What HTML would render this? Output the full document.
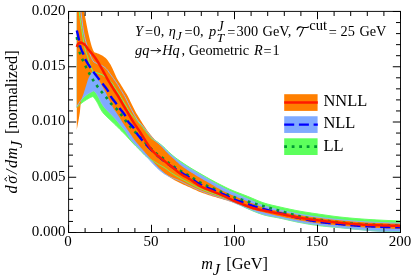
<!DOCTYPE html>
<html><head><meta charset="utf-8"><title>plot</title>
<style>
html,body{margin:0;padding:0;background:#fff;}
body{width:415px;height:279px;overflow:hidden;position:relative;font-family:"Liberation Serif",serif;}
</style></head><body>
<svg width="415" height="279" viewBox="0 0 415 279" style="position:absolute;left:0;top:0;display:block;will-change:transform">
<defs><clipPath id="c"><rect x="68.50" y="11.00" width="332.50" height="222.00"/></clipPath></defs>
<g clip-path="url(#c)">
<polygon points="76.80,-40.00 77.80,-14.16 78.80,5.74 79.20,11.00 79.80,16.73 80.80,23.84 81.80,29.64 82.50,34.00 82.80,36.10 83.80,42.90 84.00,44.00 84.80,47.82 85.80,51.80 86.50,54.00 86.80,54.73 87.50,56.25 87.80,57.13 88.80,60.80 89.80,64.42 90.00,65.00 90.80,66.92 91.80,68.99 92.50,70.60 92.80,71.42 93.00,72.00 94.00,72.16 95.00,72.36 96.00,72.60 97.00,72.86 97.50,73.00 98.00,73.15 99.00,73.47 100.00,73.84 101.00,74.26 102.00,74.74 102.50,75.00 103.00,75.30 104.00,76.06 105.00,76.93 106.00,77.80 106.25,78.00 107.00,78.57 108.00,79.28 109.00,79.99 110.00,80.79 111.00,81.75 112.00,83.04 113.00,84.64 114.00,86.36 115.00,88.00 116.00,89.49 117.00,90.96 118.00,92.44 118.75,93.60 119.00,94.00 120.00,95.65 121.00,97.35 122.00,99.06 122.50,99.90 123.00,100.73 124.00,102.36 125.00,104.00 126.00,105.67 126.25,106.10 127.00,107.46 128.00,109.36 129.00,111.13 129.40,111.75 130.00,112.60 131.00,113.91 132.00,115.11 133.00,116.24 134.00,117.33 135.00,118.42 136.00,119.54 136.40,120.00 137.00,120.70 138.00,121.86 139.00,123.01 140.00,124.16 141.00,125.33 142.00,126.52 142.80,127.50 143.00,127.75 144.00,129.05 145.00,130.39 146.00,131.74 147.00,133.06 148.00,134.30 149.00,135.51 150.00,136.73 151.00,137.85 152.00,138.81 152.50,139.20 153.00,139.53 154.00,140.06 155.00,140.53 156.00,141.05 156.25,141.20 157.00,141.68 158.00,142.38 159.00,143.13 160.00,143.91 161.00,144.73 162.00,145.57 162.50,146.00 163.00,146.44 164.00,147.36 165.00,148.33 166.00,149.33 167.00,150.33 168.00,151.30 168.75,152.00 169.00,152.23 170.00,153.13 171.00,154.03 172.00,154.91 173.00,155.77 174.00,156.60 175.00,157.40 176.00,158.16 177.00,158.90 178.00,159.61 179.00,160.31 180.00,161.00 181.00,161.69 182.00,162.37 183.00,163.05 184.00,163.72 185.00,164.39 186.00,165.04 187.00,165.69 188.00,166.34 189.00,166.97 190.00,167.60 191.00,168.22 192.00,168.83 193.00,169.42 194.00,170.02 195.00,170.60 196.00,171.19 197.00,171.77 198.00,172.34 199.00,172.92 200.00,173.50 201.00,174.08 202.00,174.66 203.00,175.24 204.00,175.81 205.00,176.39 206.00,176.96 207.00,177.53 208.00,178.09 209.00,178.65 210.00,179.20 211.00,179.75 212.00,180.29 213.00,180.83 214.00,181.37 215.00,181.90 216.00,182.43 217.00,182.95 218.00,183.47 219.00,183.99 220.00,184.50 221.00,185.01 222.00,185.52 223.00,186.03 224.00,186.53 225.00,187.03 226.00,187.53 227.00,188.01 228.00,188.49 229.00,188.95 230.00,189.40 231.00,189.84 232.00,190.26 233.00,190.68 234.00,191.09 235.00,191.49 236.00,191.88 237.00,192.27 238.00,192.66 239.00,193.04 240.00,193.42 241.00,193.80 242.00,194.18 243.00,194.56 244.00,194.94 245.00,195.32 246.00,195.71 247.00,196.10 247.50,196.30 248.00,196.50 249.00,196.91 250.00,197.32 251.00,197.75 252.00,198.18 253.00,198.61 254.00,199.04 255.00,199.47 256.00,199.90 257.00,200.32 258.00,200.74 259.00,201.15 260.00,201.54 261.00,201.93 262.00,202.30 263.00,202.65 264.00,202.99 265.00,203.30 266.00,203.60 267.00,203.88 268.00,204.16 269.00,204.42 270.00,204.68 271.00,204.93 272.00,205.17 273.00,205.41 274.00,205.64 275.00,205.87 276.00,206.10 277.00,206.32 278.00,206.55 279.00,206.77 280.00,207.00 281.00,207.23 282.00,207.45 283.00,207.68 284.00,207.91 285.00,208.13 286.00,208.35 287.00,208.57 288.00,208.79 289.00,209.01 290.00,209.22 291.00,209.44 292.00,209.65 293.00,209.85 294.00,210.06 295.00,210.26 296.00,210.45 297.00,210.65 298.00,210.83 299.00,211.02 300.00,211.20 301.00,211.38 302.00,211.55 303.00,211.72 304.00,211.89 305.00,212.05 306.00,212.21 307.00,212.37 308.00,212.53 309.00,212.68 310.00,212.84 311.00,212.99 312.00,213.14 313.00,213.28 314.00,213.43 315.00,213.58 316.00,213.72 317.00,213.87 318.00,214.01 319.00,214.16 320.00,214.30 321.00,214.44 322.00,214.59 323.00,214.74 324.00,214.88 325.00,215.03 326.00,215.17 327.00,215.31 328.00,215.46 329.00,215.60 330.00,215.74 331.00,215.88 332.00,216.01 333.00,216.15 334.00,216.28 335.00,216.41 336.00,216.53 337.00,216.65 338.00,216.77 339.00,216.89 340.00,217.00 341.00,217.11 342.00,217.21 343.00,217.32 344.00,217.42 345.00,217.53 346.00,217.63 347.00,217.72 348.00,217.82 349.00,217.92 350.00,218.01 351.00,218.10 352.00,218.19 353.00,218.28 354.00,218.37 355.00,218.45 356.00,218.54 357.00,218.62 358.00,218.70 359.00,218.78 360.00,218.85 361.00,218.93 362.00,219.00 363.00,219.07 364.00,219.14 365.00,219.21 366.00,219.28 367.00,219.34 368.00,219.41 369.00,219.47 370.00,219.53 371.00,219.59 372.00,219.65 373.00,219.71 374.00,219.77 375.00,219.83 376.00,219.88 377.00,219.94 378.00,219.99 379.00,220.05 380.00,220.10 381.00,220.15 382.00,220.20 383.00,220.25 384.00,220.30 385.00,220.35 386.00,220.40 387.00,220.44 388.00,220.49 389.00,220.53 390.00,220.58 391.00,220.62 392.00,220.67 393.00,220.71 394.00,220.75 395.00,220.79 396.00,220.83 397.00,220.87 398.00,220.91 399.00,220.95 400.00,220.98 400.50,221.00 400.50,232.00 399.80,231.99 398.80,231.96 397.80,231.94 396.80,231.91 395.80,231.88 394.80,231.85 393.80,231.81 392.80,231.78 391.80,231.74 390.80,231.70 389.80,231.66 388.80,231.62 387.80,231.58 386.80,231.53 385.80,231.48 384.80,231.44 383.80,231.39 382.80,231.34 382.00,231.30 381.80,231.29 380.80,231.24 379.80,231.18 378.80,231.12 377.80,231.06 376.80,230.99 375.80,230.92 374.80,230.85 373.80,230.77 372.80,230.70 371.80,230.62 370.80,230.54 369.80,230.46 368.80,230.37 367.80,230.29 366.80,230.21 365.80,230.12 364.80,230.04 363.80,229.95 362.80,229.87 362.00,229.80 361.80,229.78 360.80,229.70 359.80,229.61 358.80,229.52 357.80,229.43 356.80,229.34 355.80,229.25 354.80,229.15 353.80,229.05 352.80,228.96 351.80,228.86 350.80,228.76 349.80,228.66 348.80,228.56 347.80,228.46 346.80,228.37 345.80,228.27 344.80,228.17 343.80,228.07 342.80,227.97 341.80,227.87 340.80,227.78 340.00,227.70 339.80,227.68 338.80,227.59 337.80,227.50 336.80,227.41 335.80,227.32 334.80,227.23 333.80,227.14 332.80,227.06 331.80,226.97 330.80,226.88 329.80,226.79 328.80,226.70 327.80,226.61 326.80,226.52 325.80,226.42 324.80,226.32 323.80,226.22 322.80,226.12 321.80,226.01 320.80,225.89 320.00,225.80 319.80,225.78 318.80,225.65 317.80,225.52 316.80,225.39 315.80,225.25 314.80,225.11 313.80,224.96 312.80,224.81 311.80,224.65 310.80,224.50 309.80,224.33 308.80,224.17 307.80,224.00 306.80,223.83 305.80,223.65 304.80,223.47 303.80,223.29 302.80,223.11 301.80,222.93 300.80,222.75 300.00,222.60 299.80,222.56 298.80,222.37 297.80,222.17 296.80,221.97 295.80,221.76 294.80,221.54 293.80,221.32 292.80,221.10 291.80,220.87 290.80,220.64 289.80,220.41 288.80,220.18 287.80,219.95 286.80,219.72 285.80,219.49 284.80,219.26 283.80,219.03 282.80,218.81 281.80,218.58 280.80,218.37 280.00,218.20 279.80,218.16 278.80,217.96 277.80,217.76 276.80,217.57 275.80,217.39 274.80,217.21 273.80,217.03 272.80,216.85 271.80,216.67 270.80,216.48 269.80,216.28 268.80,216.08 267.80,215.87 266.80,215.64 265.80,215.40 265.00,215.20 264.80,215.15 263.80,214.87 262.80,214.58 261.80,214.28 260.80,213.95 259.80,213.61 258.80,213.26 257.80,212.89 256.80,212.51 255.80,212.12 254.80,211.72 253.80,211.31 252.80,210.90 251.80,210.47 250.80,210.04 249.80,209.61 248.80,209.17 247.80,208.73 247.50,208.60 246.80,208.28 245.80,207.80 244.80,207.30 243.80,206.78 242.80,206.25 241.80,205.72 240.80,205.20 240.00,204.80 239.80,204.70 238.80,204.21 237.80,203.71 236.80,203.21 235.80,202.72 234.80,202.23 233.80,201.75 232.80,201.27 231.80,200.81 230.80,200.35 230.00,200.00 229.80,199.91 228.80,199.48 227.80,199.06 226.80,198.65 225.80,198.24 224.80,197.84 223.80,197.45 222.80,197.06 221.80,196.68 220.80,196.30 220.00,196.00 219.80,195.93 218.80,195.56 217.80,195.21 216.80,194.86 215.80,194.52 214.80,194.18 213.80,193.84 212.80,193.50 211.80,193.15 210.80,192.79 210.00,192.50 209.80,192.43 208.80,192.05 207.80,191.67 206.80,191.29 205.80,190.90 204.80,190.51 203.80,190.11 202.80,189.70 201.80,189.28 200.80,188.85 200.00,188.50 199.80,188.41 198.80,187.95 197.80,187.48 196.80,187.00 195.80,186.50 194.80,186.00 193.80,185.48 192.80,184.97 191.80,184.44 190.80,183.92 190.00,183.50 189.80,183.40 188.80,182.87 187.80,182.33 186.80,181.80 185.80,181.25 184.80,180.70 183.80,180.15 182.80,179.59 181.80,179.03 180.80,178.46 180.00,178.00 179.80,177.89 178.80,177.31 177.80,176.74 176.80,176.17 175.80,175.59 174.80,175.00 173.80,174.39 172.80,173.76 171.80,173.12 171.25,172.75 170.80,172.44 169.80,171.69 168.80,170.90 167.80,170.10 166.80,169.30 165.80,168.55 165.00,168.00 164.80,167.87 163.80,167.25 162.80,166.67 161.80,166.11 160.80,165.57 159.80,165.01 158.80,164.43 158.75,164.40 157.80,163.83 156.80,163.21 155.80,162.59 154.80,161.96 153.80,161.32 152.80,160.69 152.50,160.50 151.80,160.07 150.80,159.47 149.80,158.87 148.80,158.26 147.80,157.62 146.80,156.92 146.25,156.50 145.80,156.13 144.80,155.23 143.80,154.23 142.80,153.17 141.80,152.08 140.80,151.02 140.00,150.20 139.80,150.00 138.80,149.02 137.80,148.06 136.80,147.09 135.80,146.10 135.00,145.30 134.80,145.10 133.80,144.06 132.80,143.01 131.80,141.94 130.80,140.86 130.00,140.00 129.80,139.78 128.80,138.68 127.80,137.57 126.80,136.45 125.80,135.35 125.00,134.50 124.80,134.29 123.80,133.27 122.80,132.27 121.80,131.28 120.80,130.29 120.00,129.50 119.80,129.30 118.80,128.29 117.80,127.28 116.80,126.28 115.80,125.28 115.00,124.50 114.80,124.31 113.80,123.35 112.80,122.42 111.80,121.49 110.80,120.55 110.00,119.80 109.80,119.61 108.80,118.67 107.80,117.74 106.80,116.79 105.80,115.81 105.00,115.00 104.80,114.79 103.80,113.75 103.00,112.80 102.80,112.54 101.80,111.07 100.80,109.41 100.00,108.00 99.80,107.63 98.80,105.60 97.80,103.56 97.50,103.00 96.80,101.78 95.80,100.15 95.00,99.00 94.80,98.74 93.80,97.53 92.80,96.50 91.80,96.88 90.80,97.31 90.60,97.40 89.80,97.79 88.80,98.32 87.80,98.89 86.80,99.50 86.00,100.00 85.80,100.13 84.80,100.79 83.80,101.48 82.80,102.21 81.80,102.98 80.90,103.70 80.80,103.78 79.80,104.64 78.80,105.54 77.80,106.50 76.80,107.50" fill="#5CFF5C"/>
<polygon points="76.80,-20.00 77.80,-12.02 78.80,-4.19 79.80,3.48 80.80,11.00 81.80,18.76 82.80,26.44 83.80,32.94 84.00,34.00 84.80,37.70 85.80,41.57 86.50,44.00 86.80,44.99 87.80,48.04 88.80,50.84 89.40,52.50 89.80,53.64 90.80,56.43 91.25,57.50 91.80,58.65 92.80,60.51 93.75,61.90 94.75,62.42 95.75,62.92 96.75,63.40 97.50,63.75 97.75,63.86 98.75,64.27 99.75,64.65 100.75,65.05 101.75,65.52 101.90,65.60 102.75,66.08 103.75,66.72 104.75,67.46 105.75,68.29 106.25,68.75 106.75,69.27 107.75,70.54 108.75,71.97 109.75,73.41 110.00,73.75 110.75,74.76 111.75,76.10 112.75,77.46 113.50,78.50 113.75,78.85 114.75,80.24 115.75,81.66 116.75,83.11 117.50,84.25 117.75,84.64 118.75,86.27 119.75,87.96 120.75,89.66 121.25,90.50 121.75,91.32 122.75,92.94 123.75,94.58 124.75,96.30 125.00,96.75 125.75,98.18 126.75,100.22 127.75,102.29 128.10,103.00 128.75,104.31 129.75,106.33 130.75,108.30 131.25,109.25 131.75,110.18 132.75,112.04 133.75,113.88 134.75,115.65 135.75,117.34 136.75,118.92 137.50,120.00 137.75,120.34 138.75,121.61 139.75,122.78 140.75,123.88 141.75,124.95 142.75,126.04 143.75,127.20 144.00,127.50 144.75,128.45 145.75,129.76 146.75,131.10 147.75,132.44 148.75,133.74 149.20,134.30 149.75,134.98 150.75,136.21 151.75,137.40 152.75,138.53 153.70,139.50 153.75,139.55 154.75,140.46 155.75,141.30 156.75,142.08 157.75,142.82 158.75,143.55 159.75,144.29 160.75,145.05 161.75,145.85 162.50,146.50 162.75,146.72 163.75,147.67 164.75,148.67 165.75,149.69 166.75,150.73 167.75,151.74 168.75,152.70 169.75,153.62 170.75,154.53 171.75,155.42 172.75,156.29 173.75,157.15 174.75,157.99 175.00,158.20 175.75,158.83 176.75,159.66 177.75,160.47 178.75,161.26 179.75,162.02 180.00,162.20 180.75,162.74 181.75,163.44 182.75,164.11 183.75,164.78 184.75,165.42 185.75,166.06 186.75,166.69 187.75,167.31 188.75,167.93 189.75,168.55 190.00,168.70 190.75,169.16 191.75,169.77 192.75,170.36 193.75,170.95 194.75,171.54 195.75,172.12 196.75,172.70 197.75,173.28 198.75,173.87 199.75,174.45 200.00,174.60 200.75,175.04 201.75,175.64 202.75,176.23 203.75,176.83 204.75,177.42 205.75,178.01 206.75,178.61 207.75,179.19 208.75,179.78 209.75,180.36 210.00,180.50 210.75,180.93 211.75,181.50 212.75,182.08 213.75,182.64 214.75,183.21 215.75,183.77 216.75,184.33 217.75,184.88 218.75,185.43 219.75,185.97 220.00,186.10 220.75,186.50 221.75,187.03 222.75,187.56 223.75,188.08 224.75,188.60 225.75,189.11 226.75,189.61 227.75,190.11 228.75,190.60 229.75,191.08 230.00,191.20 230.75,191.55 231.75,192.02 232.75,192.47 233.75,192.92 234.75,193.37 235.75,193.81 236.75,194.24 237.75,194.67 238.75,195.10 239.75,195.53 240.75,195.95 241.75,196.37 242.75,196.80 243.75,197.22 244.75,197.64 245.75,198.06 246.75,198.48 247.50,198.80 247.75,198.91 248.75,199.34 249.75,199.78 250.75,200.22 251.75,200.67 252.75,201.12 253.75,201.57 254.75,202.02 255.75,202.46 256.75,202.90 257.75,203.34 258.75,203.76 259.75,204.17 260.75,204.57 261.75,204.96 262.75,205.33 263.75,205.69 264.75,206.02 265.00,206.10 265.75,206.34 266.75,206.64 267.75,206.93 268.75,207.22 269.75,207.49 270.75,207.76 271.75,208.02 272.75,208.27 273.75,208.52 274.75,208.76 275.75,209.00 276.75,209.24 277.75,209.47 278.75,209.71 279.75,209.94 280.00,210.00 280.75,210.17 281.75,210.41 282.75,210.64 283.75,210.86 284.75,211.09 285.75,211.31 286.75,211.53 287.75,211.75 288.75,211.97 289.75,212.18 290.75,212.40 291.75,212.60 292.75,212.81 293.75,213.01 294.75,213.21 295.75,213.41 296.75,213.60 297.75,213.79 298.75,213.97 299.75,214.16 300.00,214.20 300.75,214.33 301.75,214.51 302.75,214.68 303.75,214.85 304.75,215.02 305.75,215.18 306.75,215.35 307.75,215.51 308.75,215.66 309.75,215.82 310.75,215.97 311.75,216.12 312.75,216.27 313.75,216.42 314.75,216.57 315.75,216.71 316.75,216.85 317.75,216.99 318.75,217.13 319.75,217.27 320.00,217.30 320.75,217.40 321.75,217.53 322.75,217.67 323.75,217.80 324.75,217.93 325.75,218.06 326.75,218.18 327.75,218.31 328.75,218.43 329.75,218.56 330.75,218.68 331.75,218.80 332.75,218.91 333.75,219.03 334.75,219.14 335.75,219.25 336.75,219.36 337.75,219.47 338.75,219.57 339.75,219.67 340.00,219.70 340.75,219.78 341.75,219.88 342.75,219.97 343.75,220.07 344.75,220.17 345.75,220.27 346.75,220.36 347.75,220.46 348.75,220.55 349.75,220.64 350.75,220.73 351.75,220.82 352.75,220.91 353.75,220.99 354.75,221.07 355.75,221.15 356.75,221.23 357.75,221.31 358.75,221.38 359.75,221.45 360.75,221.52 361.75,221.58 362.00,221.60 362.75,221.65 363.75,221.71 364.75,221.77 365.75,221.83 366.75,221.88 367.75,221.94 368.75,221.99 369.75,222.05 370.75,222.10 371.75,222.15 372.75,222.20 373.75,222.24 374.75,222.29 375.75,222.34 376.75,222.38 377.75,222.43 378.75,222.47 379.75,222.51 380.75,222.55 381.75,222.59 382.00,222.60 382.75,222.63 383.75,222.67 384.75,222.71 385.75,222.74 386.75,222.78 387.75,222.82 388.75,222.85 389.75,222.89 390.75,222.92 391.75,222.95 392.75,222.98 393.75,223.01 394.75,223.04 395.75,223.07 396.75,223.10 397.75,223.13 398.75,223.16 399.75,223.18 400.50,223.20 400.50,232.30 399.50,232.28 398.50,232.25 397.50,232.22 396.50,232.19 395.50,232.15 394.50,232.11 393.50,232.07 392.50,232.03 391.50,231.99 390.50,231.94 389.50,231.90 388.50,231.85 387.50,231.80 386.50,231.75 385.50,231.69 384.50,231.64 383.50,231.58 382.50,231.53 382.00,231.50 381.50,231.47 380.50,231.41 379.50,231.34 378.50,231.27 377.50,231.20 376.50,231.12 375.50,231.04 374.50,230.96 373.50,230.87 372.50,230.79 371.50,230.70 370.50,230.60 369.50,230.51 368.50,230.42 367.50,230.32 366.50,230.23 365.50,230.13 364.50,230.04 363.50,229.94 362.50,229.85 362.00,229.80 361.50,229.75 360.50,229.66 359.50,229.56 358.50,229.46 357.50,229.36 356.50,229.26 355.50,229.16 354.50,229.06 353.50,228.96 352.50,228.85 351.50,228.75 350.50,228.64 349.50,228.53 348.50,228.43 347.50,228.32 346.50,228.21 345.50,228.10 344.50,227.99 343.50,227.88 342.50,227.77 341.50,227.66 340.50,227.55 340.00,227.50 339.50,227.45 338.50,227.34 337.50,227.23 336.50,227.12 335.50,227.01 334.50,226.90 333.50,226.79 332.50,226.68 331.50,226.57 330.50,226.46 329.50,226.35 328.50,226.23 327.50,226.12 326.50,226.00 325.50,225.88 324.50,225.76 323.50,225.64 322.50,225.52 321.50,225.39 320.50,225.26 320.00,225.20 319.50,225.13 318.50,225.00 317.50,224.87 316.50,224.74 315.50,224.60 314.50,224.46 313.50,224.32 312.50,224.18 311.50,224.04 310.50,223.89 309.50,223.75 308.50,223.60 307.50,223.44 306.50,223.29 305.50,223.13 304.50,222.97 303.50,222.80 302.50,222.63 301.50,222.46 300.50,222.29 300.00,222.20 299.50,222.11 298.50,221.92 297.50,221.73 296.50,221.52 295.50,221.31 294.50,221.10 293.50,220.88 292.50,220.65 291.50,220.42 290.50,220.19 289.50,219.96 288.50,219.73 287.50,219.49 286.50,219.26 285.50,219.02 284.50,218.79 283.50,218.56 282.50,218.34 281.50,218.12 280.50,217.91 280.00,217.80 279.50,217.70 278.50,217.50 277.50,217.30 276.50,217.12 275.50,216.93 274.50,216.75 273.50,216.57 272.50,216.39 271.50,216.20 270.50,216.01 269.50,215.82 268.50,215.61 267.50,215.40 266.50,215.17 265.50,214.93 265.00,214.80 264.50,214.67 263.50,214.39 262.50,214.10 261.50,213.78 260.50,213.45 259.50,213.11 258.50,212.75 257.50,212.38 256.50,212.01 255.50,211.62 254.50,211.22 253.50,210.83 252.50,210.42 251.50,210.02 250.50,209.61 249.50,209.20 248.50,208.80 247.50,208.40 246.50,207.99 245.50,207.58 244.50,207.15 243.50,206.72 242.50,206.28 241.50,205.84 240.50,205.41 240.00,205.20 239.50,204.99 238.50,204.56 237.50,204.13 236.50,203.69 235.50,203.26 234.50,202.83 233.50,202.41 232.50,201.99 231.50,201.59 230.50,201.19 230.00,201.00 229.50,200.81 228.50,200.44 227.50,200.07 226.50,199.72 225.50,199.36 224.50,199.02 223.50,198.68 222.50,198.34 221.50,198.00 220.50,197.67 220.00,197.50 219.50,197.33 218.50,197.01 217.50,196.69 216.50,196.38 215.50,196.07 214.50,195.76 213.50,195.45 212.50,195.13 211.50,194.81 210.50,194.47 210.00,194.30 209.50,194.13 208.50,193.77 207.50,193.41 206.50,193.04 205.50,192.67 204.50,192.29 203.50,191.90 202.50,191.51 201.50,191.11 200.50,190.71 200.00,190.50 199.50,190.29 198.50,189.87 197.50,189.44 196.50,189.00 195.50,188.55 194.50,188.10 193.50,187.64 192.50,187.18 191.50,186.71 190.50,186.24 190.00,186.00 189.50,185.76 188.50,185.27 187.50,184.76 186.50,184.24 185.50,183.72 184.50,183.20 183.50,182.69 182.50,182.18 181.50,181.69 180.50,181.22 180.00,181.00 179.50,180.78 178.50,180.37 177.50,179.98 176.50,179.60 175.50,179.22 174.50,178.83 173.50,178.43 172.50,178.00 171.50,177.55 170.50,177.09 169.50,176.62 168.50,176.13 167.50,175.62 166.50,175.08 165.50,174.50 165.00,174.20 164.50,173.88 163.50,173.21 162.50,172.48 161.50,171.71 160.50,170.89 159.50,170.05 158.75,169.40 158.50,169.18 157.50,168.26 156.50,167.28 155.50,166.26 154.50,165.21 153.50,164.16 152.50,163.10 151.50,162.04 150.50,160.95 149.50,159.85 148.50,158.74 147.50,157.63 146.50,156.52 146.25,156.25 145.50,155.43 144.50,154.33 143.50,153.24 142.50,152.14 141.50,151.05 140.50,149.95 140.00,149.40 139.50,148.86 138.50,147.79 137.50,146.74 136.50,145.70 135.50,144.66 134.50,143.59 133.50,142.49 132.50,141.34 131.50,140.13 131.00,139.50 130.50,138.83 129.50,137.39 128.50,135.83 127.50,134.24 126.50,132.67 125.50,131.19 125.00,130.50 124.50,129.85 123.50,128.61 122.50,127.42 121.50,126.26 120.50,125.09 120.00,124.50 119.50,123.90 118.50,122.67 117.50,121.45 116.50,120.24 115.50,119.06 115.00,118.50 114.50,117.95 113.50,116.89 112.50,115.86 111.50,114.85 110.50,113.84 109.50,112.82 109.00,112.30 108.50,111.78 107.50,110.78 106.50,109.76 105.50,108.69 104.50,107.50 103.50,106.16 102.50,104.65 101.50,103.00 100.50,101.06 99.50,98.97 99.00,98.00 98.50,97.08 97.50,95.24 96.50,93.64 96.00,93.00 95.50,92.45 94.50,91.49 93.50,90.80 92.80,91.13 91.80,91.64 90.80,92.19 90.60,92.30 89.80,92.76 88.80,93.36 87.80,94.00 86.80,94.70 86.00,95.30 85.80,95.46 84.80,96.30 83.80,97.22 82.80,98.23 81.80,99.33 80.90,100.40 80.80,100.52 79.80,101.87 78.80,103.38 77.80,105.03 76.80,106.80" fill="#80AAFF"/>
<polygon points="76.80,-60.00 77.80,-46.32 78.80,-33.47 79.50,-25.00 79.80,-21.39 80.80,-9.35 81.80,0.00 82.80,5.53 83.80,10.02 84.00,11.00 84.80,15.13 85.80,20.45 86.80,25.73 87.80,30.75 88.50,34.00 88.80,35.32 89.80,39.52 90.80,43.31 91.00,44.00 91.80,46.69 92.80,49.56 93.00,50.00 93.80,51.51 94.60,52.60 95.60,52.82 96.60,53.10 97.60,53.44 98.60,53.82 99.60,54.23 100.00,54.40 100.60,54.67 101.60,55.18 102.60,55.77 103.60,56.43 104.60,57.18 105.00,57.50 105.60,58.03 106.60,59.08 107.60,60.30 108.60,61.66 109.60,63.13 110.00,63.75 110.60,64.75 111.60,66.67 112.60,68.78 113.60,70.93 113.75,71.25 114.60,73.15 115.60,75.50 116.60,77.71 117.00,78.50 117.60,79.57 118.60,81.18 119.60,82.69 120.60,84.25 121.60,85.88 122.60,87.52 123.60,89.17 124.40,90.50 124.60,90.83 125.60,92.47 126.60,94.11 127.60,95.84 128.10,96.75 128.60,97.72 129.60,99.80 130.60,101.95 131.25,103.30 131.60,104.01 132.60,106.05 133.60,108.07 134.60,110.02 135.50,111.70 135.60,111.88 136.60,113.63 137.60,115.31 138.60,116.94 139.60,118.55 140.00,119.20 140.60,120.17 141.60,121.79 142.60,123.40 143.60,124.97 144.60,126.50 145.00,127.10 145.60,127.99 146.60,129.45 147.60,130.88 148.60,132.27 149.60,133.59 150.00,134.10 150.60,134.84 151.60,136.04 152.60,137.19 153.60,138.31 154.60,139.41 155.60,140.50 156.25,141.20 156.60,141.58 157.60,142.64 158.60,143.67 159.60,144.70 160.60,145.72 161.60,146.75 162.50,147.70 162.60,147.81 163.60,148.90 164.60,150.01 165.60,151.14 166.60,152.25 167.60,153.33 168.60,154.35 168.75,154.50 169.60,155.31 170.60,156.23 171.60,157.11 172.60,157.98 173.60,158.85 174.60,159.74 175.00,160.10 175.60,160.66 176.60,161.63 177.60,162.62 178.60,163.57 179.60,164.47 180.00,164.80 180.60,165.28 181.60,166.05 182.60,166.79 183.60,167.50 184.60,168.18 185.60,168.85 186.60,169.51 187.60,170.16 188.60,170.80 189.60,171.44 190.00,171.70 190.60,172.09 191.60,172.72 192.60,173.35 193.60,173.97 194.60,174.58 195.60,175.19 196.60,175.79 197.60,176.38 198.60,176.97 199.60,177.56 200.00,177.80 200.60,178.15 201.60,178.73 202.60,179.31 203.60,179.88 204.60,180.44 205.60,181.01 206.60,181.57 207.60,182.13 208.60,182.70 209.60,183.27 210.00,183.50 210.60,183.85 211.60,184.43 212.60,185.03 213.60,185.62 214.60,186.22 215.60,186.81 216.60,187.40 217.60,187.97 218.60,188.54 219.60,189.09 220.00,189.30 220.60,189.62 221.60,190.14 222.60,190.65 223.60,191.16 224.60,191.65 225.60,192.14 226.60,192.62 227.60,193.10 228.60,193.56 229.60,194.02 230.00,194.20 230.60,194.47 231.60,194.91 232.60,195.35 233.60,195.78 234.60,196.21 235.60,196.63 236.60,197.04 237.60,197.46 238.60,197.86 239.60,198.27 240.60,198.67 241.60,199.07 242.60,199.47 243.60,199.86 244.60,200.26 245.60,200.65 246.60,201.05 247.50,201.40 247.60,201.44 248.60,201.84 249.60,202.24 250.60,202.64 251.60,203.05 252.60,203.46 253.60,203.87 254.60,204.27 255.60,204.68 256.60,205.07 257.60,205.46 258.60,205.84 259.60,206.22 260.60,206.58 261.60,206.93 262.60,207.26 263.60,207.58 264.60,207.88 265.00,208.00 265.60,208.17 266.60,208.45 267.60,208.71 268.60,208.97 269.60,209.22 270.60,209.46 271.60,209.69 272.60,209.92 273.60,210.14 274.60,210.36 275.60,210.58 276.60,210.79 277.60,211.00 278.60,211.21 279.60,211.42 280.00,211.50 280.60,211.62 281.60,211.83 282.60,212.03 283.60,212.23 284.60,212.43 285.60,212.63 286.60,212.83 287.60,213.02 288.60,213.21 289.60,213.40 290.60,213.58 291.60,213.76 292.60,213.95 293.60,214.12 294.60,214.30 295.60,214.47 296.60,214.64 297.60,214.81 298.60,214.97 299.60,215.14 300.00,215.20 300.60,215.30 301.60,215.45 302.60,215.61 303.60,215.76 304.60,215.91 305.60,216.06 306.60,216.21 307.60,216.35 308.60,216.49 309.60,216.63 310.60,216.77 311.60,216.91 312.60,217.05 313.60,217.18 314.60,217.31 315.60,217.44 316.60,217.57 317.60,217.70 318.60,217.83 319.60,217.95 320.00,218.00 320.60,218.07 321.60,218.20 322.60,218.32 323.60,218.44 324.60,218.55 325.60,218.67 326.60,218.79 327.60,218.90 328.60,219.02 329.60,219.13 330.60,219.24 331.60,219.35 332.60,219.46 333.60,219.56 334.60,219.67 335.60,219.77 336.60,219.87 337.60,219.97 338.60,220.07 339.60,220.16 340.00,220.20 340.60,220.26 341.60,220.35 342.60,220.44 343.60,220.54 344.60,220.63 345.60,220.72 346.60,220.81 347.60,220.90 348.60,220.99 349.60,221.08 350.60,221.17 351.60,221.25 352.60,221.33 353.60,221.41 354.60,221.49 355.60,221.57 356.60,221.64 357.60,221.72 358.60,221.79 359.60,221.85 360.60,221.92 361.60,221.98 362.00,222.00 362.60,222.03 363.60,222.09 364.60,222.15 365.60,222.20 366.60,222.25 367.60,222.30 368.60,222.35 369.60,222.40 370.60,222.45 371.60,222.49 372.60,222.54 373.60,222.58 374.60,222.62 375.60,222.66 376.60,222.70 377.60,222.74 378.60,222.78 379.60,222.82 380.60,222.85 381.60,222.89 382.00,222.90 382.60,222.92 383.60,222.95 384.60,222.99 385.60,223.02 386.60,223.05 387.60,223.08 388.60,223.11 389.60,223.14 390.60,223.17 391.60,223.19 392.60,223.22 393.60,223.25 394.60,223.27 395.60,223.30 396.60,223.32 397.60,223.34 398.60,223.36 399.60,223.38 400.50,223.40 400.50,229.00 400.10,228.98 399.10,228.94 398.10,228.90 397.10,228.86 396.10,228.81 395.10,228.77 394.10,228.73 393.10,228.68 392.10,228.64 391.10,228.60 390.10,228.55 389.10,228.51 388.10,228.47 387.10,228.42 386.10,228.38 385.10,228.34 384.10,228.29 383.10,228.25 382.10,228.20 382.00,228.20 381.10,228.16 380.10,228.12 379.10,228.08 378.10,228.03 377.10,227.99 376.10,227.95 375.10,227.91 374.10,227.87 373.10,227.83 372.10,227.79 371.10,227.75 370.10,227.70 369.10,227.66 368.10,227.61 367.10,227.57 366.10,227.52 365.10,227.47 364.10,227.42 363.10,227.36 362.10,227.31 362.00,227.30 361.10,227.25 360.10,227.18 359.10,227.12 358.10,227.05 357.10,226.98 356.10,226.90 355.10,226.83 354.10,226.75 353.10,226.67 352.10,226.58 351.10,226.50 350.10,226.41 349.10,226.32 348.10,226.23 347.10,226.15 346.10,226.05 345.10,225.96 344.10,225.87 343.10,225.78 342.10,225.69 341.10,225.60 340.10,225.51 340.00,225.50 339.10,225.42 338.10,225.33 337.10,225.24 336.10,225.15 335.10,225.06 334.10,224.96 333.10,224.87 332.10,224.78 331.10,224.68 330.10,224.58 329.10,224.49 328.10,224.39 327.10,224.29 326.10,224.18 325.10,224.08 324.10,223.97 323.10,223.86 322.10,223.75 321.10,223.63 320.10,223.51 320.00,223.50 319.10,223.39 318.10,223.27 317.10,223.14 316.10,223.01 315.10,222.87 314.10,222.73 313.10,222.59 312.10,222.45 311.10,222.30 310.10,222.15 309.10,222.00 308.10,221.85 307.10,221.69 306.10,221.53 305.10,221.36 304.10,221.20 303.10,221.03 302.10,220.86 301.10,220.69 300.10,220.52 300.00,220.50 299.10,220.34 298.10,220.16 297.10,219.97 296.10,219.78 295.10,219.58 294.10,219.38 293.10,219.17 292.10,218.96 291.10,218.75 290.10,218.54 289.10,218.32 288.10,218.10 287.10,217.88 286.10,217.66 285.10,217.44 284.10,217.21 283.10,216.99 282.10,216.77 281.10,216.54 280.10,216.32 280.00,216.30 279.10,216.10 278.10,215.88 277.10,215.65 276.10,215.43 275.10,215.20 274.10,214.97 273.10,214.74 272.10,214.51 271.10,214.28 270.10,214.04 269.10,213.81 268.10,213.57 267.10,213.32 266.10,213.07 265.10,212.83 265.00,212.80 264.10,212.57 263.10,212.32 262.10,212.07 261.10,211.82 260.10,211.56 259.10,211.30 258.10,211.04 257.10,210.78 256.10,210.52 255.10,210.24 254.10,209.97 253.10,209.69 252.10,209.40 251.10,209.11 250.10,208.81 249.10,208.51 248.10,208.19 247.50,208.00 247.10,207.87 246.10,207.52 245.10,207.16 244.10,206.78 243.10,206.39 242.10,206.00 241.10,205.62 240.10,205.24 240.00,205.20 239.10,204.86 238.10,204.48 237.10,204.10 236.10,203.72 235.10,203.34 234.10,202.96 233.10,202.59 232.10,202.23 231.10,201.87 230.10,201.53 230.00,201.50 229.10,201.21 228.10,200.89 227.10,200.58 226.10,200.28 225.10,199.99 224.10,199.70 223.10,199.41 222.10,199.12 221.10,198.83 220.10,198.53 220.00,198.50 219.10,198.23 218.10,197.94 217.10,197.64 216.10,197.35 215.10,197.06 214.10,196.76 213.10,196.46 212.10,196.16 211.10,195.85 210.10,195.53 210.00,195.50 209.10,195.21 208.10,194.88 207.10,194.55 206.10,194.21 205.10,193.87 204.10,193.52 203.10,193.17 202.10,192.80 201.10,192.43 200.10,192.04 200.00,192.00 199.10,191.64 198.10,191.22 197.10,190.78 196.10,190.33 195.10,189.87 194.10,189.40 193.10,188.93 192.10,188.46 191.10,188.00 190.10,187.55 190.00,187.50 189.10,187.10 188.10,186.66 187.10,186.22 186.10,185.78 185.10,185.34 184.10,184.90 183.10,184.45 182.10,184.00 181.10,183.53 180.10,183.05 180.00,183.00 179.10,182.56 178.10,182.06 177.10,181.56 176.10,181.05 175.10,180.51 174.10,179.95 173.10,179.37 172.50,179.00 172.10,178.75 171.10,178.08 170.10,177.38 169.10,176.65 168.10,175.88 167.10,175.10 166.10,174.29 165.10,173.48 165.00,173.40 164.10,172.66 163.10,171.81 162.10,170.93 161.10,170.03 160.10,169.10 159.10,168.14 158.75,167.80 158.10,167.15 157.10,166.11 156.10,165.03 155.10,163.92 154.10,162.80 153.10,161.67 152.50,161.00 152.10,160.55 151.10,159.41 150.10,158.27 149.10,157.11 148.10,155.94 147.10,154.78 146.25,153.80 146.10,153.63 145.10,152.48 144.10,151.34 143.10,150.20 142.10,149.06 141.10,147.90 140.10,146.72 140.00,146.60 139.10,145.53 138.10,144.34 137.10,143.15 136.10,141.93 135.10,140.68 134.10,139.39 133.10,138.04 133.00,137.90 132.10,136.57 131.10,135.00 130.10,133.45 130.00,133.30 129.10,132.00 128.10,130.59 127.10,129.21 126.10,127.80 125.10,126.35 125.00,126.20 124.10,124.83 123.10,123.26 122.10,121.66 121.10,120.05 120.10,118.46 120.00,118.30 119.10,116.87 118.10,115.26 117.10,113.68 116.20,112.30 116.10,112.15 115.10,110.76 114.10,109.39 113.20,108.00 113.10,107.83 112.10,105.91 111.10,103.82 110.70,103.00 110.10,101.81 109.10,99.85 108.20,98.00 108.10,97.78 107.10,95.47 106.10,93.20 106.00,93.00 105.10,91.31 104.10,89.58 103.20,88.00 103.10,87.82 102.10,85.97 101.10,84.11 100.50,83.00 100.10,82.25 99.10,80.35 98.10,78.51 97.50,77.50 97.10,76.86 96.10,75.31 95.10,73.85 94.10,72.49 93.10,71.25 92.80,71.41 91.80,72.31 90.80,73.70 89.80,75.45 88.80,77.40 88.75,77.50 87.80,80.00 86.80,83.35 86.00,86.00 85.80,86.62 84.80,89.77 83.80,92.90 83.00,95.30 82.80,95.85 81.80,98.29 81.30,100.00 80.80,103.03 80.60,104.60 79.90,112.00 79.80,112.77 78.80,119.07 77.80,124.17 77.20,127.50 76.80,130.00" fill="#FF7F00"/>
<path d="M76.80 -40.00 L77.80 -14.16 L78.80 5.74 L79.20 11.00 L79.80 16.73 L80.80 23.84 L81.80 29.64 L82.50 34.00 L82.80 36.10 L83.80 42.90 L84.00 44.00 L84.80 47.82 L85.80 51.80 L86.50 54.00 L86.80 54.73 L87.50 56.25 L87.80 57.13 L88.80 60.80 L89.80 64.42 L90.00 65.00 L90.80 66.92 L91.80 68.99 L92.50 70.60 L92.80 71.42 L93.00 72.00 L94.00 72.16 L95.00 72.36 L96.00 72.60 L97.00 72.86 L97.50 73.00 L98.00 73.15 L99.00 73.47 L100.00 73.84 L101.00 74.26 L102.00 74.74 L102.50 75.00 L103.00 75.30 L104.00 76.06 L105.00 76.93 L106.00 77.80 L106.25 78.00 L107.00 78.57 L108.00 79.28 L109.00 79.99 L110.00 80.79 L111.00 81.75 L112.00 83.04 L113.00 84.64 L114.00 86.36 L115.00 88.00 L116.00 89.49 L117.00 90.96 L118.00 92.44 L118.75 93.60 L119.00 94.00 L120.00 95.65 L121.00 97.35 L122.00 99.06 L122.50 99.90 L123.00 100.73 L124.00 102.36 L125.00 104.00 L126.00 105.67 L126.25 106.10 L127.00 107.46 L128.00 109.36 L129.00 111.13 L129.40 111.75 L130.00 112.60 L131.00 113.91 L132.00 115.11 L133.00 116.24 L134.00 117.33 L135.00 118.42 L136.00 119.54 L136.40 120.00 L137.00 120.70 L138.00 121.86 L139.00 123.01 L140.00 124.16 L141.00 125.33 L142.00 126.52 L142.80 127.50 L143.00 127.75 L144.00 129.05 L145.00 130.39 L146.00 131.74 L147.00 133.06 L148.00 134.30 L149.00 135.51 L150.00 136.73 L151.00 137.85 L152.00 138.81 L152.50 139.20 L153.00 139.53 L154.00 140.06 L155.00 140.53 L156.00 141.05 L156.25 141.20 L157.00 141.68 L158.00 142.38 L159.00 143.13 L160.00 143.91 L161.00 144.73 L162.00 145.57 L162.50 146.00 L163.00 146.44 L164.00 147.36 L165.00 148.33 L166.00 149.33 L167.00 150.33 L168.00 151.30 L168.75 152.00 L169.00 152.23 L170.00 153.13 L171.00 154.03 L172.00 154.91 L173.00 155.77 L174.00 156.60 L175.00 157.40 L176.00 158.16 L177.00 158.90 L178.00 159.61 L179.00 160.31 L180.00 161.00 L181.00 161.69 L182.00 162.37 L183.00 163.05 L184.00 163.72 L185.00 164.39 L186.00 165.04 L187.00 165.69 L188.00 166.34 L189.00 166.97 L190.00 167.60 L191.00 168.22 L192.00 168.83 L193.00 169.42 L194.00 170.02 L195.00 170.60 L196.00 171.19 L197.00 171.77 L198.00 172.34 L199.00 172.92 L200.00 173.50 L201.00 174.08 L202.00 174.66 L203.00 175.24 L204.00 175.81 L205.00 176.39 L206.00 176.96 L207.00 177.53 L208.00 178.09 L209.00 178.65 L210.00 179.20 L211.00 179.75 L212.00 180.29 L213.00 180.83 L214.00 181.37 L215.00 181.90 L216.00 182.43 L217.00 182.95 L218.00 183.47 L219.00 183.99 L220.00 184.50 L221.00 185.01 L222.00 185.52 L223.00 186.03 L224.00 186.53 L225.00 187.03 L226.00 187.53 L227.00 188.01 L228.00 188.49 L229.00 188.95 L230.00 189.40 L231.00 189.84 L232.00 190.26 L233.00 190.68 L234.00 191.09 L235.00 191.49 L236.00 191.88 L237.00 192.27 L238.00 192.66 L239.00 193.04 L240.00 193.42 L241.00 193.80 L242.00 194.18 L243.00 194.56 L244.00 194.94 L245.00 195.32 L246.00 195.71 L247.00 196.10 L247.50 196.30 L248.00 196.50 L249.00 196.91 L250.00 197.32 L251.00 197.75 L252.00 198.18 L253.00 198.61 L254.00 199.04 L255.00 199.47 L256.00 199.90 L257.00 200.32 L258.00 200.74 L259.00 201.15 L260.00 201.54 L261.00 201.93 L262.00 202.30 L263.00 202.65 L264.00 202.99 L265.00 203.30 L266.00 203.60 L267.00 203.88 L268.00 204.16 L269.00 204.42 L270.00 204.68 L271.00 204.93 L272.00 205.17 L273.00 205.41 L274.00 205.64 L275.00 205.87 L276.00 206.10 L277.00 206.32 L278.00 206.55 L279.00 206.77 L280.00 207.00 L281.00 207.23 L282.00 207.45 L283.00 207.68 L284.00 207.91 L285.00 208.13 L286.00 208.35 L287.00 208.57 L288.00 208.79 L289.00 209.01 L290.00 209.22 L291.00 209.44 L292.00 209.65 L293.00 209.85 L294.00 210.06 L295.00 210.26 L296.00 210.45 L297.00 210.65 L298.00 210.83 L299.00 211.02 L300.00 211.20 L301.00 211.38 L302.00 211.55 L303.00 211.72 L304.00 211.89 L305.00 212.05 L306.00 212.21 L307.00 212.37 L308.00 212.53 L309.00 212.68 L310.00 212.84 L311.00 212.99 L312.00 213.14 L313.00 213.28 L314.00 213.43 L315.00 213.58 L316.00 213.72 L317.00 213.87 L318.00 214.01 L319.00 214.16 L320.00 214.30 L321.00 214.44 L322.00 214.59 L323.00 214.74 L324.00 214.88 L325.00 215.03 L326.00 215.17 L327.00 215.31 L328.00 215.46 L329.00 215.60 L330.00 215.74 L331.00 215.88 L332.00 216.01 L333.00 216.15 L334.00 216.28 L335.00 216.41 L336.00 216.53 L337.00 216.65 L338.00 216.77 L339.00 216.89 L340.00 217.00 L341.00 217.11 L342.00 217.21 L343.00 217.32 L344.00 217.42 L345.00 217.53 L346.00 217.63 L347.00 217.72 L348.00 217.82 L349.00 217.92 L350.00 218.01 L351.00 218.10 L352.00 218.19 L353.00 218.28 L354.00 218.37 L355.00 218.45 L356.00 218.54 L357.00 218.62 L358.00 218.70 L359.00 218.78 L360.00 218.85 L361.00 218.93 L362.00 219.00 L363.00 219.07 L364.00 219.14 L365.00 219.21 L366.00 219.28 L367.00 219.34 L368.00 219.41 L369.00 219.47 L370.00 219.53 L371.00 219.59 L372.00 219.65 L373.00 219.71 L374.00 219.77 L375.00 219.83 L376.00 219.88 L377.00 219.94 L378.00 219.99 L379.00 220.05 L380.00 220.10 L381.00 220.15 L382.00 220.20 L383.00 220.25 L384.00 220.30 L385.00 220.35 L386.00 220.40 L387.00 220.44 L388.00 220.49 L389.00 220.53 L390.00 220.58 L391.00 220.62 L392.00 220.67 L393.00 220.71 L394.00 220.75 L395.00 220.79 L396.00 220.83 L397.00 220.87 L398.00 220.91 L399.00 220.95 L400.00 220.98 L400.50 221.00" fill="none" stroke="#66FF66" stroke-width="1" />
<path d="M76.80 107.50 L77.80 106.50 L78.80 105.54 L79.80 104.64 L80.80 103.78 L80.90 103.70 L81.80 102.98 L82.80 102.21 L83.80 101.48 L84.80 100.79 L85.80 100.13 L86.00 100.00 L86.80 99.50 L87.80 98.89 L88.80 98.32 L89.80 97.79 L90.60 97.40 L90.80 97.31 L91.80 96.88 L92.80 96.50 L93.80 97.53 L94.80 98.74 L95.00 99.00 L95.80 100.15 L96.80 101.78 L97.50 103.00 L97.80 103.56 L98.80 105.60 L99.80 107.63 L100.00 108.00 L100.80 109.41 L101.80 111.07 L102.80 112.54 L103.00 112.80 L103.80 113.75 L104.80 114.79 L105.00 115.00 L105.80 115.81 L106.80 116.79 L107.80 117.74 L108.80 118.67 L109.80 119.61 L110.00 119.80 L110.80 120.55 L111.80 121.49 L112.80 122.42 L113.80 123.35 L114.80 124.31 L115.00 124.50 L115.80 125.28 L116.80 126.28 L117.80 127.28 L118.80 128.29 L119.80 129.30 L120.00 129.50 L120.80 130.29 L121.80 131.28 L122.80 132.27 L123.80 133.27 L124.80 134.29 L125.00 134.50 L125.80 135.35 L126.80 136.45 L127.80 137.57 L128.80 138.68 L129.80 139.78 L130.00 140.00 L130.80 140.86 L131.80 141.94 L132.80 143.01 L133.80 144.06 L134.80 145.10 L135.00 145.30 L135.80 146.10 L136.80 147.09 L137.80 148.06 L138.80 149.02 L139.80 150.00 L140.00 150.20 L140.80 151.02 L141.80 152.08 L142.80 153.17 L143.80 154.23 L144.80 155.23 L145.80 156.13 L146.25 156.50 L146.80 156.92 L147.80 157.62 L148.80 158.26 L149.80 158.87 L150.80 159.47 L151.80 160.07 L152.50 160.50 L152.80 160.69 L153.80 161.32 L154.80 161.96 L155.80 162.59 L156.80 163.21 L157.80 163.83 L158.75 164.40 L158.80 164.43 L159.80 165.01 L160.80 165.57 L161.80 166.11 L162.80 166.67 L163.80 167.25 L164.80 167.87 L165.00 168.00 L165.80 168.55 L166.80 169.30 L167.80 170.10 L168.80 170.90 L169.80 171.69 L170.80 172.44 L171.25 172.75 L171.80 173.12 L172.80 173.76 L173.80 174.39 L174.80 175.00 L175.80 175.59 L176.80 176.17 L177.80 176.74 L178.80 177.31 L179.80 177.89 L180.00 178.00 L180.80 178.46 L181.80 179.03 L182.80 179.59 L183.80 180.15 L184.80 180.70 L185.80 181.25 L186.80 181.80 L187.80 182.33 L188.80 182.87 L189.80 183.40 L190.00 183.50 L190.80 183.92 L191.80 184.44 L192.80 184.97 L193.80 185.48 L194.80 186.00 L195.80 186.50 L196.80 187.00 L197.80 187.48 L198.80 187.95 L199.80 188.41 L200.00 188.50 L200.80 188.85 L201.80 189.28 L202.80 189.70 L203.80 190.11 L204.80 190.51 L205.80 190.90 L206.80 191.29 L207.80 191.67 L208.80 192.05 L209.80 192.43 L210.00 192.50 L210.80 192.79 L211.80 193.15 L212.80 193.50 L213.80 193.84 L214.80 194.18 L215.80 194.52 L216.80 194.86 L217.80 195.21 L218.80 195.56 L219.80 195.93 L220.00 196.00 L220.80 196.30 L221.80 196.68 L222.80 197.06 L223.80 197.45 L224.80 197.84 L225.80 198.24 L226.80 198.65 L227.80 199.06 L228.80 199.48 L229.80 199.91 L230.00 200.00 L230.80 200.35 L231.80 200.81 L232.80 201.27 L233.80 201.75 L234.80 202.23 L235.80 202.72 L236.80 203.21 L237.80 203.71 L238.80 204.21 L239.80 204.70 L240.00 204.80 L240.80 205.20 L241.80 205.72 L242.80 206.25 L243.80 206.78 L244.80 207.30 L245.80 207.80 L246.80 208.28 L247.50 208.60 L247.80 208.73 L248.80 209.17 L249.80 209.61 L250.80 210.04 L251.80 210.47 L252.80 210.90 L253.80 211.31 L254.80 211.72 L255.80 212.12 L256.80 212.51 L257.80 212.89 L258.80 213.26 L259.80 213.61 L260.80 213.95 L261.80 214.28 L262.80 214.58 L263.80 214.87 L264.80 215.15 L265.00 215.20 L265.80 215.40 L266.80 215.64 L267.80 215.87 L268.80 216.08 L269.80 216.28 L270.80 216.48 L271.80 216.67 L272.80 216.85 L273.80 217.03 L274.80 217.21 L275.80 217.39 L276.80 217.57 L277.80 217.76 L278.80 217.96 L279.80 218.16 L280.00 218.20 L280.80 218.37 L281.80 218.58 L282.80 218.81 L283.80 219.03 L284.80 219.26 L285.80 219.49 L286.80 219.72 L287.80 219.95 L288.80 220.18 L289.80 220.41 L290.80 220.64 L291.80 220.87 L292.80 221.10 L293.80 221.32 L294.80 221.54 L295.80 221.76 L296.80 221.97 L297.80 222.17 L298.80 222.37 L299.80 222.56 L300.00 222.60 L300.80 222.75 L301.80 222.93 L302.80 223.11 L303.80 223.29 L304.80 223.47 L305.80 223.65 L306.80 223.83 L307.80 224.00 L308.80 224.17 L309.80 224.33 L310.80 224.50 L311.80 224.65 L312.80 224.81 L313.80 224.96 L314.80 225.11 L315.80 225.25 L316.80 225.39 L317.80 225.52 L318.80 225.65 L319.80 225.78 L320.00 225.80 L320.80 225.89 L321.80 226.01 L322.80 226.12 L323.80 226.22 L324.80 226.32 L325.80 226.42 L326.80 226.52 L327.80 226.61 L328.80 226.70 L329.80 226.79 L330.80 226.88 L331.80 226.97 L332.80 227.06 L333.80 227.14 L334.80 227.23 L335.80 227.32 L336.80 227.41 L337.80 227.50 L338.80 227.59 L339.80 227.68 L340.00 227.70 L340.80 227.78 L341.80 227.87 L342.80 227.97 L343.80 228.07 L344.80 228.17 L345.80 228.27 L346.80 228.37 L347.80 228.46 L348.80 228.56 L349.80 228.66 L350.80 228.76 L351.80 228.86 L352.80 228.96 L353.80 229.05 L354.80 229.15 L355.80 229.25 L356.80 229.34 L357.80 229.43 L358.80 229.52 L359.80 229.61 L360.80 229.70 L361.80 229.78 L362.00 229.80 L362.80 229.87 L363.80 229.95 L364.80 230.04 L365.80 230.12 L366.80 230.21 L367.80 230.29 L368.80 230.37 L369.80 230.46 L370.80 230.54 L371.80 230.62 L372.80 230.70 L373.80 230.77 L374.80 230.85 L375.80 230.92 L376.80 230.99 L377.80 231.06 L378.80 231.12 L379.80 231.18 L380.80 231.24 L381.80 231.29 L382.00 231.30 L382.80 231.34 L383.80 231.39 L384.80 231.44 L385.80 231.48 L386.80 231.53 L387.80 231.58 L388.80 231.62 L389.80 231.66 L390.80 231.70 L391.80 231.74 L392.80 231.78 L393.80 231.81 L394.80 231.85 L395.80 231.88 L396.80 231.91 L397.80 231.94 L398.80 231.96 L399.80 231.99 L400.50 232.00" fill="none" stroke="#66FF66" stroke-width="1" />
<path d="M76.80 -20.00 L77.80 -12.02 L78.80 -4.19 L79.80 3.48 L80.80 11.00 L81.80 18.76 L82.80 26.44 L83.80 32.94 L84.00 34.00 L84.80 37.70 L85.80 41.57 L86.50 44.00 L86.80 44.99 L87.80 48.04 L88.80 50.84 L89.40 52.50 L89.80 53.64 L90.80 56.43 L91.25 57.50 L91.80 58.65 L92.80 60.51 L93.75 61.90 L94.75 62.42 L95.75 62.92 L96.75 63.40 L97.50 63.75 L97.75 63.86 L98.75 64.27 L99.75 64.65 L100.75 65.05 L101.75 65.52 L101.90 65.60 L102.75 66.08 L103.75 66.72 L104.75 67.46 L105.75 68.29 L106.25 68.75 L106.75 69.27 L107.75 70.54 L108.75 71.97 L109.75 73.41 L110.00 73.75 L110.75 74.76 L111.75 76.10 L112.75 77.46 L113.50 78.50 L113.75 78.85 L114.75 80.24 L115.75 81.66 L116.75 83.11 L117.50 84.25 L117.75 84.64 L118.75 86.27 L119.75 87.96 L120.75 89.66 L121.25 90.50 L121.75 91.32 L122.75 92.94 L123.75 94.58 L124.75 96.30 L125.00 96.75 L125.75 98.18 L126.75 100.22 L127.75 102.29 L128.10 103.00 L128.75 104.31 L129.75 106.33 L130.75 108.30 L131.25 109.25 L131.75 110.18 L132.75 112.04 L133.75 113.88 L134.75 115.65 L135.75 117.34 L136.75 118.92 L137.50 120.00 L137.75 120.34 L138.75 121.61 L139.75 122.78 L140.75 123.88 L141.75 124.95 L142.75 126.04 L143.75 127.20 L144.00 127.50 L144.75 128.45 L145.75 129.76 L146.75 131.10 L147.75 132.44 L148.75 133.74 L149.20 134.30 L149.75 134.98 L150.75 136.21 L151.75 137.40 L152.75 138.53 L153.70 139.50 L153.75 139.55 L154.75 140.46 L155.75 141.30 L156.75 142.08 L157.75 142.82 L158.75 143.55 L159.75 144.29 L160.75 145.05 L161.75 145.85 L162.50 146.50 L162.75 146.72 L163.75 147.67 L164.75 148.67 L165.75 149.69 L166.75 150.73 L167.75 151.74 L168.75 152.70 L169.75 153.62 L170.75 154.53 L171.75 155.42 L172.75 156.29 L173.75 157.15 L174.75 157.99 L175.00 158.20 L175.75 158.83 L176.75 159.66 L177.75 160.47 L178.75 161.26 L179.75 162.02 L180.00 162.20 L180.75 162.74 L181.75 163.44 L182.75 164.11 L183.75 164.78 L184.75 165.42 L185.75 166.06 L186.75 166.69 L187.75 167.31 L188.75 167.93 L189.75 168.55 L190.00 168.70 L190.75 169.16 L191.75 169.77 L192.75 170.36 L193.75 170.95 L194.75 171.54 L195.75 172.12 L196.75 172.70 L197.75 173.28 L198.75 173.87 L199.75 174.45 L200.00 174.60 L200.75 175.04 L201.75 175.64 L202.75 176.23 L203.75 176.83 L204.75 177.42 L205.75 178.01 L206.75 178.61 L207.75 179.19 L208.75 179.78 L209.75 180.36 L210.00 180.50 L210.75 180.93 L211.75 181.50 L212.75 182.08 L213.75 182.64 L214.75 183.21 L215.75 183.77 L216.75 184.33 L217.75 184.88 L218.75 185.43 L219.75 185.97 L220.00 186.10 L220.75 186.50 L221.75 187.03 L222.75 187.56 L223.75 188.08 L224.75 188.60 L225.75 189.11 L226.75 189.61 L227.75 190.11 L228.75 190.60 L229.75 191.08 L230.00 191.20 L230.75 191.55 L231.75 192.02 L232.75 192.47 L233.75 192.92 L234.75 193.37 L235.75 193.81 L236.75 194.24 L237.75 194.67 L238.75 195.10 L239.75 195.53 L240.75 195.95 L241.75 196.37 L242.75 196.80 L243.75 197.22 L244.75 197.64 L245.75 198.06 L246.75 198.48 L247.50 198.80 L247.75 198.91 L248.75 199.34 L249.75 199.78 L250.75 200.22 L251.75 200.67 L252.75 201.12 L253.75 201.57 L254.75 202.02 L255.75 202.46 L256.75 202.90 L257.75 203.34 L258.75 203.76 L259.75 204.17 L260.75 204.57 L261.75 204.96 L262.75 205.33 L263.75 205.69 L264.75 206.02 L265.00 206.10 L265.75 206.34 L266.75 206.64 L267.75 206.93 L268.75 207.22 L269.75 207.49 L270.75 207.76 L271.75 208.02 L272.75 208.27 L273.75 208.52 L274.75 208.76 L275.75 209.00 L276.75 209.24 L277.75 209.47 L278.75 209.71 L279.75 209.94 L280.00 210.00 L280.75 210.17 L281.75 210.41 L282.75 210.64 L283.75 210.86 L284.75 211.09 L285.75 211.31 L286.75 211.53 L287.75 211.75 L288.75 211.97 L289.75 212.18 L290.75 212.40 L291.75 212.60 L292.75 212.81 L293.75 213.01 L294.75 213.21 L295.75 213.41 L296.75 213.60 L297.75 213.79 L298.75 213.97 L299.75 214.16 L300.00 214.20 L300.75 214.33 L301.75 214.51 L302.75 214.68 L303.75 214.85 L304.75 215.02 L305.75 215.18 L306.75 215.35 L307.75 215.51 L308.75 215.66 L309.75 215.82 L310.75 215.97 L311.75 216.12 L312.75 216.27 L313.75 216.42 L314.75 216.57 L315.75 216.71 L316.75 216.85 L317.75 216.99 L318.75 217.13 L319.75 217.27 L320.00 217.30 L320.75 217.40 L321.75 217.53 L322.75 217.67 L323.75 217.80 L324.75 217.93 L325.75 218.06 L326.75 218.18 L327.75 218.31 L328.75 218.43 L329.75 218.56 L330.75 218.68 L331.75 218.80 L332.75 218.91 L333.75 219.03 L334.75 219.14 L335.75 219.25 L336.75 219.36 L337.75 219.47 L338.75 219.57 L339.75 219.67 L340.00 219.70 L340.75 219.78 L341.75 219.88 L342.75 219.97 L343.75 220.07 L344.75 220.17 L345.75 220.27 L346.75 220.36 L347.75 220.46 L348.75 220.55 L349.75 220.64 L350.75 220.73 L351.75 220.82 L352.75 220.91 L353.75 220.99 L354.75 221.07 L355.75 221.15 L356.75 221.23 L357.75 221.31 L358.75 221.38 L359.75 221.45 L360.75 221.52 L361.75 221.58 L362.00 221.60 L362.75 221.65 L363.75 221.71 L364.75 221.77 L365.75 221.83 L366.75 221.88 L367.75 221.94 L368.75 221.99 L369.75 222.05 L370.75 222.10 L371.75 222.15 L372.75 222.20 L373.75 222.24 L374.75 222.29 L375.75 222.34 L376.75 222.38 L377.75 222.43 L378.75 222.47 L379.75 222.51 L380.75 222.55 L381.75 222.59 L382.00 222.60 L382.75 222.63 L383.75 222.67 L384.75 222.71 L385.75 222.74 L386.75 222.78 L387.75 222.82 L388.75 222.85 L389.75 222.89 L390.75 222.92 L391.75 222.95 L392.75 222.98 L393.75 223.01 L394.75 223.04 L395.75 223.07 L396.75 223.10 L397.75 223.13 L398.75 223.16 L399.75 223.18 L400.50 223.20" fill="none" stroke="#8FB5F5" stroke-width="1" />
<path d="M76.80 106.80 L77.80 105.03 L78.80 103.38 L79.80 101.87 L80.80 100.52 L80.90 100.40 L81.80 99.33 L82.80 98.23 L83.80 97.22 L84.80 96.30 L85.80 95.46 L86.00 95.30 L86.80 94.70 L87.80 94.00 L88.80 93.36 L89.80 92.76 L90.60 92.30 L90.80 92.19 L91.80 91.64 L92.80 91.13 L93.50 90.80 L94.50 91.49 L95.50 92.45 L96.00 93.00 L96.50 93.64 L97.50 95.24 L98.50 97.08 L99.00 98.00 L99.50 98.97 L100.50 101.06 L101.50 103.00 L102.50 104.65 L103.50 106.16 L104.50 107.50 L105.50 108.69 L106.50 109.76 L107.50 110.78 L108.50 111.78 L109.00 112.30 L109.50 112.82 L110.50 113.84 L111.50 114.85 L112.50 115.86 L113.50 116.89 L114.50 117.95 L115.00 118.50 L115.50 119.06 L116.50 120.24 L117.50 121.45 L118.50 122.67 L119.50 123.90 L120.00 124.50 L120.50 125.09 L121.50 126.26 L122.50 127.42 L123.50 128.61 L124.50 129.85 L125.00 130.50 L125.50 131.19 L126.50 132.67 L127.50 134.24 L128.50 135.83 L129.50 137.39 L130.50 138.83 L131.00 139.50 L131.50 140.13 L132.50 141.34 L133.50 142.49 L134.50 143.59 L135.50 144.66 L136.50 145.70 L137.50 146.74 L138.50 147.79 L139.50 148.86 L140.00 149.40 L140.50 149.95 L141.50 151.05 L142.50 152.14 L143.50 153.24 L144.50 154.33 L145.50 155.43 L146.25 156.25 L146.50 156.52 L147.50 157.63 L148.50 158.74 L149.50 159.85 L150.50 160.95 L151.50 162.04 L152.50 163.10 L153.50 164.16 L154.50 165.21 L155.50 166.26 L156.50 167.28 L157.50 168.26 L158.50 169.18 L158.75 169.40 L159.50 170.05 L160.50 170.89 L161.50 171.71 L162.50 172.48 L163.50 173.21 L164.50 173.88 L165.00 174.20 L165.50 174.50 L166.50 175.08 L167.50 175.62 L168.50 176.13 L169.50 176.62 L170.50 177.09 L171.50 177.55 L172.50 178.00 L173.50 178.43 L174.50 178.83 L175.50 179.22 L176.50 179.60 L177.50 179.98 L178.50 180.37 L179.50 180.78 L180.00 181.00 L180.50 181.22 L181.50 181.69 L182.50 182.18 L183.50 182.69 L184.50 183.20 L185.50 183.72 L186.50 184.24 L187.50 184.76 L188.50 185.27 L189.50 185.76 L190.00 186.00 L190.50 186.24 L191.50 186.71 L192.50 187.18 L193.50 187.64 L194.50 188.10 L195.50 188.55 L196.50 189.00 L197.50 189.44 L198.50 189.87 L199.50 190.29 L200.00 190.50 L200.50 190.71 L201.50 191.11 L202.50 191.51 L203.50 191.90 L204.50 192.29 L205.50 192.67 L206.50 193.04 L207.50 193.41 L208.50 193.77 L209.50 194.13 L210.00 194.30 L210.50 194.47 L211.50 194.81 L212.50 195.13 L213.50 195.45 L214.50 195.76 L215.50 196.07 L216.50 196.38 L217.50 196.69 L218.50 197.01 L219.50 197.33 L220.00 197.50 L220.50 197.67 L221.50 198.00 L222.50 198.34 L223.50 198.68 L224.50 199.02 L225.50 199.36 L226.50 199.72 L227.50 200.07 L228.50 200.44 L229.50 200.81 L230.00 201.00 L230.50 201.19 L231.50 201.59 L232.50 201.99 L233.50 202.41 L234.50 202.83 L235.50 203.26 L236.50 203.69 L237.50 204.13 L238.50 204.56 L239.50 204.99 L240.00 205.20 L240.50 205.41 L241.50 205.84 L242.50 206.28 L243.50 206.72 L244.50 207.15 L245.50 207.58 L246.50 207.99 L247.50 208.40 L248.50 208.80 L249.50 209.20 L250.50 209.61 L251.50 210.02 L252.50 210.42 L253.50 210.83 L254.50 211.22 L255.50 211.62 L256.50 212.01 L257.50 212.38 L258.50 212.75 L259.50 213.11 L260.50 213.45 L261.50 213.78 L262.50 214.10 L263.50 214.39 L264.50 214.67 L265.00 214.80 L265.50 214.93 L266.50 215.17 L267.50 215.40 L268.50 215.61 L269.50 215.82 L270.50 216.01 L271.50 216.20 L272.50 216.39 L273.50 216.57 L274.50 216.75 L275.50 216.93 L276.50 217.12 L277.50 217.30 L278.50 217.50 L279.50 217.70 L280.00 217.80 L280.50 217.91 L281.50 218.12 L282.50 218.34 L283.50 218.56 L284.50 218.79 L285.50 219.02 L286.50 219.26 L287.50 219.49 L288.50 219.73 L289.50 219.96 L290.50 220.19 L291.50 220.42 L292.50 220.65 L293.50 220.88 L294.50 221.10 L295.50 221.31 L296.50 221.52 L297.50 221.73 L298.50 221.92 L299.50 222.11 L300.00 222.20 L300.50 222.29 L301.50 222.46 L302.50 222.63 L303.50 222.80 L304.50 222.97 L305.50 223.13 L306.50 223.29 L307.50 223.44 L308.50 223.60 L309.50 223.75 L310.50 223.89 L311.50 224.04 L312.50 224.18 L313.50 224.32 L314.50 224.46 L315.50 224.60 L316.50 224.74 L317.50 224.87 L318.50 225.00 L319.50 225.13 L320.00 225.20 L320.50 225.26 L321.50 225.39 L322.50 225.52 L323.50 225.64 L324.50 225.76 L325.50 225.88 L326.50 226.00 L327.50 226.12 L328.50 226.23 L329.50 226.35 L330.50 226.46 L331.50 226.57 L332.50 226.68 L333.50 226.79 L334.50 226.90 L335.50 227.01 L336.50 227.12 L337.50 227.23 L338.50 227.34 L339.50 227.45 L340.00 227.50 L340.50 227.55 L341.50 227.66 L342.50 227.77 L343.50 227.88 L344.50 227.99 L345.50 228.10 L346.50 228.21 L347.50 228.32 L348.50 228.43 L349.50 228.53 L350.50 228.64 L351.50 228.75 L352.50 228.85 L353.50 228.96 L354.50 229.06 L355.50 229.16 L356.50 229.26 L357.50 229.36 L358.50 229.46 L359.50 229.56 L360.50 229.66 L361.50 229.75 L362.00 229.80 L362.50 229.85 L363.50 229.94 L364.50 230.04 L365.50 230.13 L366.50 230.23 L367.50 230.32 L368.50 230.42 L369.50 230.51 L370.50 230.60 L371.50 230.70 L372.50 230.79 L373.50 230.87 L374.50 230.96 L375.50 231.04 L376.50 231.12 L377.50 231.20 L378.50 231.27 L379.50 231.34 L380.50 231.41 L381.50 231.47 L382.00 231.50 L382.50 231.53 L383.50 231.58 L384.50 231.64 L385.50 231.69 L386.50 231.75 L387.50 231.80 L388.50 231.85 L389.50 231.90 L390.50 231.94 L391.50 231.99 L392.50 232.03 L393.50 232.07 L394.50 232.11 L395.50 232.15 L396.50 232.19 L397.50 232.22 L398.50 232.25 L399.50 232.28 L400.50 232.30" fill="none" stroke="#8FB5F5" stroke-width="1" />
<path d="M76.80 37.00 L77.80 42.96 L78.80 48.13 L79.80 52.30 L80.00 53.00 L80.80 55.42 L81.80 57.92 L82.80 60.20 L83.80 62.47 L84.80 64.63 L85.80 66.70 L86.80 68.69 L87.80 70.62 L88.00 71.00 L88.80 72.50 L89.80 74.33 L90.80 76.11 L91.80 77.85 L92.80 79.53 L93.80 81.14 L94.80 82.70 L95.00 83.00 L95.80 84.18 L96.80 85.60 L97.80 86.97 L98.80 88.30 L99.80 89.59 L100.80 90.87 L101.50 91.75 L101.80 92.12 L102.80 93.33 L103.80 94.50 L104.80 95.66 L105.80 96.85 L106.25 97.40 L106.80 98.10 L107.80 99.45 L108.80 100.82 L109.80 102.16 L110.80 103.38 L111.00 103.60 L111.80 104.43 L112.80 105.37 L113.80 106.25 L114.80 107.13 L115.80 108.07 L116.50 108.80 L116.80 109.13 L117.80 110.32 L118.80 111.60 L119.80 112.92 L120.80 114.24 L121.00 114.50 L121.80 115.55 L122.80 116.88 L123.80 118.22 L124.80 119.55 L125.60 120.60 L125.80 120.86 L126.80 122.15 L127.80 123.43 L128.80 124.69 L129.80 125.93 L130.60 126.90 L130.80 127.14 L131.80 128.31 L132.80 129.46 L133.80 130.59 L134.80 131.68 L135.00 131.90 L135.80 132.75 L136.80 133.77 L137.80 134.78 L138.80 135.77 L139.80 136.76 L140.80 137.76 L141.80 138.79 L142.00 139.00 L142.80 139.85 L143.80 140.95 L144.80 142.06 L145.80 143.17 L146.80 144.26 L147.50 145.00 L147.80 145.31 L148.80 146.37 L149.80 147.43 L150.80 148.48 L151.80 149.50 L152.80 150.50 L153.80 151.44 L154.80 152.33 L155.00 152.50 L155.80 153.15 L156.80 153.91 L157.80 154.63 L158.80 155.32 L159.80 156.00 L160.80 156.69 L161.80 157.40 L162.60 158.00 L162.80 158.15 L163.80 158.95 L164.80 159.77 L165.80 160.61 L166.80 161.46 L167.80 162.29 L168.80 163.09 L169.80 163.85 L170.00 164.00 L170.80 164.57 L171.80 165.27 L172.80 165.95 L173.80 166.61 L174.80 167.26 L175.80 167.90 L176.80 168.53 L177.80 169.15 L178.80 169.76 L179.80 170.38 L180.00 170.50 L180.80 170.99 L181.80 171.58 L182.80 172.16 L183.80 172.73 L184.80 173.30 L185.80 173.87 L186.80 174.44 L187.80 175.01 L188.80 175.59 L189.80 176.18 L190.00 176.30 L190.80 176.79 L191.80 177.42 L192.80 178.06 L193.80 178.71 L194.80 179.36 L195.80 180.00 L196.80 180.64 L197.80 181.25 L198.80 181.84 L199.80 182.39 L200.00 182.50 L200.80 182.92 L201.80 183.43 L202.80 183.92 L203.80 184.40 L204.80 184.86 L205.80 185.32 L206.80 185.77 L207.80 186.21 L208.80 186.64 L209.80 187.07 L210.80 187.50 L211.80 187.93 L212.80 188.35 L213.80 188.78 L214.80 189.21 L215.00 189.30 L215.80 189.65 L216.80 190.08 L217.80 190.50 L218.80 190.93 L219.80 191.35 L220.80 191.77 L221.80 192.18 L222.80 192.60 L223.80 193.01 L224.80 193.42 L225.00 193.50 L225.80 193.83 L226.80 194.25 L227.80 194.66 L228.80 195.08 L229.80 195.49 L230.80 195.90 L231.80 196.30 L232.80 196.69 L233.80 197.07 L234.80 197.43 L235.00 197.50 L235.80 197.77 L236.80 198.11 L237.80 198.43 L238.80 198.74 L239.80 199.04 L240.80 199.34 L241.80 199.64 L242.80 199.93 L243.80 200.23 L244.80 200.54 L245.00 200.60 L245.80 200.85 L246.80 201.16 L247.80 201.47 L248.80 201.79 L249.80 202.10 L250.80 202.41 L251.80 202.72 L252.80 203.03 L253.80 203.34 L254.80 203.64 L255.00 203.70 L255.80 203.94 L256.80 204.23 L257.80 204.53 L258.80 204.82 L259.80 205.11 L260.80 205.40 L261.80 205.69 L262.80 205.97 L263.80 206.26 L264.80 206.54 L265.00 206.60 L265.80 206.83 L266.80 207.11 L267.80 207.39 L268.80 207.68 L269.80 207.96 L270.80 208.24 L271.80 208.51 L272.80 208.79 L273.80 209.07 L274.80 209.35 L275.80 209.63 L276.80 209.91 L277.80 210.19 L278.80 210.46 L279.80 210.74 L280.00 210.80 L280.80 211.03 L281.80 211.31 L282.80 211.61 L283.80 211.90 L284.80 212.20 L285.80 212.50 L286.80 212.80 L287.80 213.10 L288.80 213.40 L289.80 213.70 L290.80 214.00 L291.80 214.29 L292.80 214.57 L293.80 214.85 L294.80 215.13 L295.80 215.39 L296.80 215.65 L297.80 215.90 L298.80 216.13 L299.80 216.36 L300.00 216.40 L300.80 216.57 L301.80 216.78 L302.80 216.98 L303.80 217.18 L304.80 217.38 L305.80 217.57 L306.80 217.75 L307.80 217.94 L308.80 218.11 L309.80 218.29 L310.80 218.46 L311.80 218.63 L312.80 218.79 L313.80 218.95 L314.80 219.11 L315.80 219.27 L316.80 219.42 L317.80 219.57 L318.80 219.72 L319.80 219.87 L320.00 219.90 L320.80 220.02 L321.80 220.16 L322.80 220.30 L323.80 220.44 L324.80 220.58 L325.80 220.71 L326.80 220.85 L327.80 220.98 L328.80 221.11 L329.80 221.23 L330.80 221.36 L331.80 221.48 L332.80 221.60 L333.80 221.72 L334.80 221.84 L335.80 221.95 L336.80 222.06 L337.80 222.17 L338.80 222.28 L339.80 222.38 L340.00 222.40 L340.80 222.48 L341.80 222.58 L342.80 222.69 L343.80 222.79 L344.80 222.89 L345.80 222.99 L346.80 223.09 L347.80 223.18 L348.80 223.28 L349.80 223.37 L350.80 223.46 L351.80 223.55 L352.80 223.64 L353.80 223.73 L354.80 223.81 L355.80 223.89 L356.80 223.96 L357.80 224.04 L358.80 224.10 L359.80 224.17 L360.80 224.23 L361.80 224.29 L362.00 224.30 L362.80 224.34 L363.80 224.39 L364.80 224.44 L365.80 224.49 L366.80 224.54 L367.80 224.58 L368.80 224.63 L369.80 224.67 L370.80 224.71 L371.80 224.75 L372.80 224.79 L373.80 224.82 L374.80 224.86 L375.80 224.89 L376.80 224.93 L377.80 224.96 L378.80 225.00 L379.80 225.03 L380.80 225.06 L381.80 225.09 L382.00 225.10 L382.80 225.13 L383.80 225.16 L384.80 225.19 L385.80 225.22 L386.80 225.25 L387.80 225.28 L388.80 225.31 L389.80 225.34 L390.80 225.36 L391.80 225.39 L392.80 225.42 L393.80 225.44 L394.80 225.47 L395.80 225.49 L396.80 225.52 L397.80 225.54 L398.80 225.56 L399.80 225.59 L400.50 225.60" fill="none" stroke="#009933" stroke-width="2.6" stroke-dasharray="2.8 4.7" />
<path d="M76.80 30.50 L77.80 34.43 L78.80 39.02 L79.00 40.00 L79.80 44.60 L80.00 45.50 L80.80 48.13 L81.80 50.65 L82.80 52.85 L83.50 54.50 L83.80 55.27 L84.80 57.89 L85.50 59.50 L85.80 60.10 L86.80 61.96 L87.80 63.63 L88.80 65.18 L89.80 66.70 L90.00 67.00 L90.80 68.20 L91.80 69.64 L92.80 71.03 L93.80 72.39 L94.80 73.73 L95.00 74.00 L95.80 75.06 L96.80 76.36 L97.80 77.63 L98.80 78.89 L99.80 80.15 L100.80 81.41 L101.80 82.69 L102.50 83.60 L102.80 83.99 L103.80 85.25 L104.80 86.49 L105.80 87.76 L106.80 89.12 L107.80 90.62 L108.10 91.10 L108.80 92.42 L109.80 94.57 L110.60 96.10 L110.80 96.42 L111.80 97.92 L112.80 99.26 L113.80 100.51 L114.80 101.73 L115.80 103.00 L116.25 103.60 L116.80 104.36 L117.80 105.76 L118.80 107.17 L119.40 108.00 L119.80 108.53 L120.80 109.79 L121.80 110.98 L122.80 112.18 L123.80 113.47 L124.80 114.92 L125.60 116.25 L125.80 116.64 L126.80 119.09 L127.50 120.60 L127.80 121.08 L128.80 122.46 L129.80 123.60 L130.80 124.62 L131.80 125.62 L132.80 126.74 L133.75 128.00 L133.80 128.07 L134.80 129.84 L135.80 131.75 L136.25 132.50 L136.80 133.33 L137.80 134.76 L138.80 136.09 L139.80 137.35 L140.80 138.57 L141.80 139.76 L142.00 140.00 L142.80 140.93 L143.80 142.06 L144.80 143.15 L145.80 144.21 L146.80 145.26 L147.50 146.00 L147.80 146.32 L148.80 147.37 L149.80 148.42 L150.80 149.47 L151.80 150.49 L152.80 151.50 L153.80 152.48 L154.80 153.42 L155.00 153.60 L155.80 154.32 L156.80 155.19 L157.80 156.04 L158.80 156.87 L159.80 157.68 L160.80 158.47 L161.80 159.27 L162.60 159.90 L162.80 160.06 L163.80 160.85 L164.80 161.63 L165.80 162.40 L166.80 163.16 L167.80 163.91 L168.80 164.64 L169.80 165.36 L170.00 165.50 L170.80 166.06 L171.80 166.74 L172.80 167.42 L173.80 168.08 L174.80 168.73 L175.80 169.38 L176.80 170.01 L177.80 170.64 L178.80 171.26 L179.80 171.88 L180.00 172.00 L180.80 172.48 L181.80 173.08 L182.80 173.65 L183.80 174.22 L184.80 174.79 L185.80 175.35 L186.80 175.92 L187.80 176.49 L188.80 177.08 L189.80 177.68 L190.00 177.80 L190.80 178.30 L191.80 178.96 L192.80 179.64 L193.80 180.33 L194.80 181.02 L195.80 181.71 L196.80 182.38 L197.80 183.02 L198.80 183.63 L199.80 184.19 L200.00 184.30 L200.80 184.71 L201.80 185.21 L202.80 185.69 L203.80 186.15 L204.80 186.60 L205.80 187.03 L206.80 187.45 L207.80 187.86 L208.80 188.27 L209.80 188.67 L210.80 189.08 L211.80 189.48 L212.80 189.88 L213.80 190.30 L214.80 190.71 L215.00 190.80 L215.80 191.14 L216.80 191.56 L217.80 191.97 L218.80 192.38 L219.80 192.79 L220.80 193.20 L221.80 193.62 L222.80 194.04 L223.80 194.47 L224.80 194.91 L225.00 195.00 L225.80 195.37 L226.80 195.85 L227.80 196.34 L228.80 196.85 L229.80 197.36 L230.80 197.87 L231.80 198.36 L232.80 198.84 L233.80 199.30 L234.80 199.72 L235.00 199.80 L235.80 200.11 L236.80 200.48 L237.80 200.84 L238.80 201.18 L239.80 201.51 L240.80 201.83 L241.80 202.15 L242.80 202.47 L243.80 202.80 L244.80 203.13 L245.00 203.20 L245.80 203.47 L246.80 203.82 L247.80 204.17 L248.80 204.52 L249.80 204.86 L250.80 205.21 L251.80 205.55 L252.80 205.89 L253.80 206.22 L254.80 206.54 L255.00 206.60 L255.80 206.85 L256.80 207.16 L257.80 207.46 L258.80 207.76 L259.80 208.05 L260.80 208.34 L261.80 208.62 L262.80 208.90 L263.80 209.18 L264.80 209.45 L265.00 209.50 L265.80 209.71 L266.80 209.97 L267.80 210.23 L268.80 210.48 L269.80 210.73 L270.80 210.98 L271.80 211.22 L272.80 211.46 L273.80 211.70 L274.80 211.94 L275.80 212.18 L276.80 212.42 L277.80 212.66 L278.80 212.90 L279.80 213.15 L280.00 213.20 L280.80 213.40 L281.80 213.65 L282.80 213.91 L283.80 214.17 L284.80 214.42 L285.80 214.69 L286.80 214.95 L287.80 215.21 L288.80 215.47 L289.80 215.73 L290.80 215.99 L291.80 216.24 L292.80 216.50 L293.80 216.75 L294.80 217.00 L295.80 217.24 L296.80 217.48 L297.80 217.71 L298.80 217.94 L299.80 218.16 L300.00 218.20 L300.80 218.37 L301.80 218.59 L302.80 218.80 L303.80 219.02 L304.80 219.23 L305.80 219.44 L306.80 219.65 L307.80 219.86 L308.80 220.06 L309.80 220.26 L310.80 220.46 L311.80 220.65 L312.80 220.84 L313.80 221.02 L314.80 221.19 L315.80 221.36 L316.80 221.53 L317.80 221.68 L318.80 221.83 L319.80 221.97 L320.00 222.00 L320.80 222.11 L321.80 222.24 L322.80 222.36 L323.80 222.48 L324.80 222.60 L325.80 222.71 L326.80 222.82 L327.80 222.93 L328.80 223.03 L329.80 223.13 L330.80 223.23 L331.80 223.33 L332.80 223.42 L333.80 223.52 L334.80 223.61 L335.80 223.71 L336.80 223.80 L337.80 223.89 L338.80 223.99 L339.80 224.08 L340.00 224.10 L340.80 224.18 L341.80 224.27 L342.80 224.37 L343.80 224.47 L344.80 224.57 L345.80 224.66 L346.80 224.76 L347.80 224.86 L348.80 224.95 L349.80 225.05 L350.80 225.14 L351.80 225.23 L352.80 225.32 L353.80 225.41 L354.80 225.50 L355.80 225.58 L356.80 225.66 L357.80 225.73 L358.80 225.80 L359.80 225.87 L360.80 225.93 L361.80 225.99 L362.00 226.00 L362.80 226.04 L363.80 226.09 L364.80 226.14 L365.80 226.19 L366.80 226.24 L367.80 226.28 L368.80 226.32 L369.80 226.36 L370.80 226.40 L371.80 226.44 L372.80 226.48 L373.80 226.51 L374.80 226.55 L375.80 226.58 L376.80 226.62 L377.80 226.65 L378.80 226.69 L379.80 226.72 L380.80 226.76 L381.80 226.79 L382.00 226.80 L382.80 226.83 L383.80 226.86 L384.80 226.90 L385.80 226.93 L386.80 226.97 L387.80 227.00 L388.80 227.04 L389.80 227.07 L390.80 227.10 L391.80 227.13 L392.80 227.17 L393.80 227.20 L394.80 227.23 L395.80 227.26 L396.80 227.29 L397.80 227.32 L398.80 227.35 L399.80 227.38 L400.50 227.40" fill="none" stroke="#0000FF" stroke-width="2.4" stroke-dasharray="10.2 4.77" />
<path d="M76.80 47.00 L77.80 44.28 L78.00 44.00 L78.80 43.25 L79.80 42.64 L80.50 42.50 L80.80 42.52 L81.80 42.86 L82.80 43.39 L83.00 43.50 L83.80 44.00 L84.80 44.81 L85.00 45.00 L85.80 45.91 L86.80 47.32 L87.80 48.74 L88.00 49.00 L88.80 49.99 L89.80 51.18 L90.80 52.34 L91.80 53.52 L92.80 54.74 L93.00 55.00 L93.80 56.04 L94.80 57.36 L95.80 58.75 L96.80 60.20 L97.00 60.50 L97.80 61.75 L98.80 63.40 L99.80 65.11 L100.80 66.87 L101.80 68.65 L102.00 69.00 L102.80 70.44 L103.80 72.29 L104.80 74.16 L105.80 76.02 L106.80 77.82 L106.90 78.00 L107.80 79.56 L108.80 81.25 L109.80 82.92 L110.60 84.25 L110.80 84.58 L111.80 86.23 L112.80 87.87 L113.50 89.00 L113.80 89.48 L114.80 91.04 L115.80 92.58 L116.80 94.12 L117.80 95.70 L118.60 97.00 L118.80 97.33 L119.80 99.07 L120.80 100.86 L121.80 102.63 L122.30 103.50 L122.80 104.35 L123.80 106.04 L124.80 107.70 L125.60 109.00 L125.80 109.32 L126.80 110.86 L127.20 111.50 L127.80 112.52 L128.80 114.29 L129.80 116.10 L130.60 117.50 L130.80 117.84 L131.80 119.53 L132.80 121.20 L133.80 122.81 L134.40 123.75 L134.80 124.35 L135.80 125.80 L136.80 127.20 L137.80 128.61 L138.75 130.00 L138.80 130.08 L139.80 131.63 L140.80 133.24 L141.80 134.87 L142.50 136.00 L142.80 136.48 L143.80 138.11 L144.80 139.75 L145.80 141.38 L146.80 142.95 L147.50 144.00 L147.80 144.44 L148.80 145.91 L149.80 147.35 L150.80 148.72 L151.80 149.99 L152.50 150.80 L152.80 151.13 L153.80 152.15 L154.80 153.10 L155.80 154.00 L156.80 154.86 L157.80 155.70 L158.75 156.50 L158.80 156.54 L159.80 157.38 L160.80 158.19 L161.80 158.99 L162.80 159.77 L163.80 160.56 L164.80 161.34 L165.00 161.50 L165.80 162.13 L166.80 162.91 L167.80 163.69 L168.80 164.47 L169.80 165.25 L170.80 166.04 L171.25 166.40 L171.80 166.84 L172.80 167.65 L173.80 168.47 L174.80 169.29 L175.80 170.12 L176.80 170.93 L177.50 171.50 L177.80 171.74 L178.80 172.58 L179.80 173.36 L180.00 173.50 L180.80 174.04 L181.80 174.67 L182.80 175.27 L183.80 175.83 L184.80 176.38 L185.80 176.92 L186.80 177.46 L187.80 178.01 L188.80 178.58 L189.80 179.18 L190.00 179.30 L190.80 179.81 L191.80 180.49 L192.80 181.19 L193.80 181.91 L194.80 182.63 L195.80 183.34 L196.80 184.04 L197.80 184.70 L198.80 185.33 L199.80 185.89 L200.00 186.00 L200.80 186.41 L201.80 186.90 L202.80 187.37 L203.80 187.82 L204.80 188.25 L205.80 188.66 L206.80 189.07 L207.80 189.46 L208.80 189.85 L209.80 190.24 L210.80 190.62 L211.80 191.01 L212.80 191.40 L213.80 191.81 L214.80 192.22 L215.00 192.30 L215.80 192.63 L216.80 193.05 L217.80 193.46 L218.80 193.87 L219.80 194.28 L220.80 194.70 L221.80 195.11 L222.80 195.54 L223.80 195.97 L224.80 196.41 L225.00 196.50 L225.80 196.87 L226.80 197.34 L227.80 197.83 L228.80 198.32 L229.80 198.82 L230.80 199.32 L231.80 199.82 L232.80 200.30 L233.80 200.77 L234.80 201.21 L235.00 201.30 L235.80 201.64 L236.80 202.06 L237.80 202.47 L238.80 202.86 L239.80 203.26 L240.80 203.64 L241.80 204.02 L242.80 204.39 L243.80 204.76 L244.80 205.13 L245.00 205.20 L245.80 205.49 L246.80 205.86 L247.80 206.23 L248.80 206.59 L249.80 206.95 L250.80 207.30 L251.80 207.64 L252.80 207.96 L253.80 208.26 L254.80 208.55 L255.00 208.60 L255.80 208.81 L256.80 209.06 L257.80 209.29 L258.80 209.51 L259.80 209.73 L260.80 209.94 L261.80 210.14 L262.80 210.35 L263.80 210.55 L264.80 210.76 L265.00 210.80 L265.80 210.97 L266.80 211.17 L267.80 211.38 L268.80 211.58 L269.80 211.78 L270.80 211.98 L271.80 212.18 L272.80 212.38 L273.80 212.58 L274.80 212.77 L275.80 212.97 L276.80 213.17 L277.80 213.36 L278.80 213.56 L279.80 213.76 L280.00 213.80 L280.80 213.96 L281.80 214.17 L282.80 214.37 L283.80 214.58 L284.80 214.79 L285.80 215.00 L286.80 215.21 L287.80 215.43 L288.80 215.64 L289.80 215.85 L290.80 216.05 L291.80 216.26 L292.80 216.46 L293.80 216.66 L294.80 216.86 L295.80 217.05 L296.80 217.24 L297.80 217.42 L298.80 217.60 L299.80 217.77 L300.00 217.80 L300.80 217.93 L301.80 218.09 L302.80 218.25 L303.80 218.40 L304.80 218.56 L305.80 218.70 L306.80 218.85 L307.80 218.99 L308.80 219.14 L309.80 219.28 L310.80 219.41 L311.80 219.55 L312.80 219.68 L313.80 219.81 L314.80 219.94 L315.80 220.07 L316.80 220.20 L317.80 220.33 L318.80 220.45 L319.80 220.58 L320.00 220.60 L320.80 220.70 L321.80 220.82 L322.80 220.94 L323.80 221.06 L324.80 221.18 L325.80 221.30 L326.80 221.41 L327.80 221.53 L328.80 221.64 L329.80 221.75 L330.80 221.86 L331.80 221.97 L332.80 222.08 L333.80 222.18 L334.80 222.29 L335.80 222.39 L336.80 222.49 L337.80 222.59 L338.80 222.69 L339.80 222.78 L340.00 222.80 L340.80 222.88 L341.80 222.97 L342.80 223.06 L343.80 223.16 L344.80 223.25 L345.80 223.34 L346.80 223.44 L347.80 223.53 L348.80 223.62 L349.80 223.71 L350.80 223.79 L351.80 223.88 L352.80 223.96 L353.80 224.04 L354.80 224.12 L355.80 224.20 L356.80 224.27 L357.80 224.34 L358.80 224.41 L359.80 224.47 L360.80 224.53 L361.80 224.59 L362.00 224.60 L362.80 224.64 L363.80 224.69 L364.80 224.74 L365.80 224.79 L366.80 224.84 L367.80 224.88 L368.80 224.92 L369.80 224.97 L370.80 225.01 L371.80 225.05 L372.80 225.08 L373.80 225.12 L374.80 225.16 L375.80 225.19 L376.80 225.23 L377.80 225.26 L378.80 225.30 L379.80 225.33 L380.80 225.36 L381.80 225.39 L382.00 225.40 L382.80 225.43 L383.80 225.46 L384.80 225.49 L385.80 225.52 L386.80 225.55 L387.80 225.58 L388.80 225.61 L389.80 225.64 L390.80 225.66 L391.80 225.69 L392.80 225.72 L393.80 225.74 L394.80 225.77 L395.80 225.79 L396.80 225.82 L397.80 225.84 L398.80 225.86 L399.80 225.89 L400.50 225.90" fill="none" stroke="#FF1A00" stroke-width="2.5" />
</g>
<rect x="68.6" y="11.4" width="331.9" height="221.1" fill="none" stroke="#111" stroke-width="1"/>
<path d="M68.50 232.50v-7.7M68.50 11.50v7.7M85.10 232.50v-4.5M85.10 11.50v4.5M101.70 232.50v-4.5M101.70 11.50v4.5M118.30 232.50v-4.5M118.30 11.50v4.5M134.90 232.50v-4.5M134.90 11.50v4.5M151.50 232.50v-7.7M151.50 11.50v7.7M168.10 232.50v-4.5M168.10 11.50v4.5M184.70 232.50v-4.5M184.70 11.50v4.5M201.30 232.50v-4.5M201.30 11.50v4.5M217.90 232.50v-4.5M217.90 11.50v4.5M234.50 232.50v-7.7M234.50 11.50v7.7M251.10 232.50v-4.5M251.10 11.50v4.5M267.70 232.50v-4.5M267.70 11.50v4.5M284.30 232.50v-4.5M284.30 11.50v4.5M300.90 232.50v-4.5M300.90 11.50v4.5M317.50 232.50v-7.7M317.50 11.50v7.7M334.10 232.50v-4.5M334.10 11.50v4.5M350.70 232.50v-4.5M350.70 11.50v4.5M367.30 232.50v-4.5M367.30 11.50v4.5M383.90 232.50v-4.5M383.90 11.50v4.5M400.50 232.50v-7.7M400.50 11.50v7.7M68.50 232.50h7.7M400.50 232.50h-7.7M68.50 221.45h4.5M400.50 221.45h-4.5M68.50 210.40h4.5M400.50 210.40h-4.5M68.50 199.35h4.5M400.50 199.35h-4.5M68.50 188.30h4.5M400.50 188.30h-4.5M68.50 177.25h7.7M400.50 177.25h-7.7M68.50 166.20h4.5M400.50 166.20h-4.5M68.50 155.15h4.5M400.50 155.15h-4.5M68.50 144.10h4.5M400.50 144.10h-4.5M68.50 133.05h4.5M400.50 133.05h-4.5M68.50 122.00h7.7M400.50 122.00h-7.7M68.50 110.95h4.5M400.50 110.95h-4.5M68.50 99.90h4.5M400.50 99.90h-4.5M68.50 88.85h4.5M400.50 88.85h-4.5M68.50 77.80h4.5M400.50 77.80h-4.5M68.50 66.75h7.7M400.50 66.75h-7.7M68.50 55.70h4.5M400.50 55.70h-4.5M68.50 44.65h4.5M400.50 44.65h-4.5M68.50 33.60h4.5M400.50 33.60h-4.5M68.50 22.55h4.5M400.50 22.55h-4.5M68.50 11.50h7.7M400.50 11.50h-7.7" stroke="#000" stroke-width="1" fill="none"/>
<text x="68.00" y="246.3" font-size="15" text-anchor="middle" font-family="Liberation Serif, serif">0</text>
<text x="151.00" y="246.3" font-size="15" text-anchor="middle" font-family="Liberation Serif, serif">50</text>
<text x="234.00" y="246.3" font-size="15" text-anchor="middle" font-family="Liberation Serif, serif">100</text>
<text x="317.00" y="246.3" font-size="15" text-anchor="middle" font-family="Liberation Serif, serif">150</text>
<text x="400.00" y="246.3" font-size="15" text-anchor="middle" font-family="Liberation Serif, serif">200</text>
<text x="65.6" y="235.80" font-size="15" text-anchor="end" font-family="Liberation Serif, serif">0.000</text>
<text x="65.6" y="180.55" font-size="15" text-anchor="end" font-family="Liberation Serif, serif">0.005</text>
<text x="65.6" y="125.30" font-size="15" text-anchor="end" font-family="Liberation Serif, serif">0.010</text>
<text x="65.6" y="70.05" font-size="15" text-anchor="end" font-family="Liberation Serif, serif">0.015</text>
<text x="65.6" y="14.80" font-size="15" text-anchor="end" font-family="Liberation Serif, serif">0.020</text>
<text x="201.2" y="268.8" font-size="16.2" font-style="italic" font-family="Liberation Serif, serif">m</text>
<text x="212.7" y="274.5" font-size="16.5" font-style="italic" font-family="Liberation Serif, serif">J</text>
<text x="226.2" y="269.4" font-size="16.4" font-family="Liberation Serif, serif">[GeV]</text>
<g transform="translate(16.8,193.6) rotate(-90)" font-size="16.2" font-family="Liberation Serif, serif"><text x="0.0" y="0" font-style="italic">d</text><text x="9.8" y="0" font-style="italic">σ</text><text x="19.6" y="0" font-style="italic">/</text><text x="25.6" y="0" font-style="italic">d</text><text x="34.4" y="0" font-style="italic">m</text><text x="45.6" y="4.8" font-size="16.2" font-style="italic">J</text><text x="59.6" y="0">[normalized]</text><path d="M12.4 -9.8 l2.0 -2.4 l2.0 2.4" fill="none" stroke="#000" stroke-width="0.9"/></g>
<text x="135.00" y="36.10" font-size="14.3" font-style="italic" font-family="Liberation Serif, serif" >Y</text>
<text x="144.90" y="37.30" font-size="14.3" font-family="Liberation Serif, serif" >=</text>
<text x="153.60" y="36.10" font-size="14.3" font-family="Liberation Serif, serif" >0,</text>
<text x="168.80" y="36.10" font-size="14.3" font-style="italic" font-family="Liberation Serif, serif" >η</text>
<text x="176.00" y="40.30" font-size="13" font-style="italic" font-family="Liberation Serif, serif" >J</text>
<text x="184.40" y="37.30" font-size="14.3" font-family="Liberation Serif, serif" >=</text>
<text x="192.90" y="36.10" font-size="14.3" font-family="Liberation Serif, serif" >0,</text>
<text x="209.00" y="36.10" font-size="14.3" font-style="italic" font-family="Liberation Serif, serif" >p</text>
<text x="217.50" y="30.70" font-size="13.8" font-style="italic" font-family="Liberation Serif, serif" >J</text>
<text x="216.80" y="42.20" font-size="13.3" font-style="italic" font-family="Liberation Serif, serif" >T</text>
<text x="227.20" y="37.30" font-size="14.3" font-family="Liberation Serif, serif" >=</text>
<text x="236.60" y="36.10" font-size="14.3" font-family="Liberation Serif, serif" >300</text>
<text x="262.60" y="36.10" font-size="14.3" font-family="Liberation Serif, serif" >GeV,</text>
<path d="M297.0 29.8 C297.6 27.6 299.3 26.6 301.3 27.0 C303.6 27.5 305.6 28.2 308.6 26.9 M303.6 27.6 C302.6 30.5 301.3 33.6 299.7 36.2" fill="none" stroke="#000" stroke-width="1.05" stroke-linecap="round"/>
<text x="309.20" y="29.50" font-size="14.6" font-family="Liberation Serif, serif" >cut</text>
<text x="328.80" y="37.30" font-size="14.3" font-family="Liberation Serif, serif" >=</text>
<text x="340.60" y="36.10" font-size="14.3" font-family="Liberation Serif, serif" >25</text>
<text x="359.40" y="36.10" font-size="14.3" font-family="Liberation Serif, serif" >GeV</text>
<text x="135.00" y="54.60" font-size="14.3" font-style="italic" font-family="Liberation Serif, serif" >gq</text>
<path d="M150.6 50.6 H160.4 M157.2 48.0 C158.2 49.4 159.4 50.2 160.9 50.6 C159.4 51.0 158.2 51.8 157.2 53.2" fill="none" stroke="#000" stroke-width="0.9"/>
<text x="162.30" y="54.60" font-size="14.3" font-style="italic" font-family="Liberation Serif, serif" >Hq</text>
<text x="181.60" y="54.60" font-size="14.3" font-family="Liberation Serif, serif" >, Geometric</text>
<text x="253.90" y="54.60" font-size="14.3" font-style="italic" font-family="Liberation Serif, serif" >R</text>
<text x="263.60" y="55.80" font-size="14.3" font-family="Liberation Serif, serif" >=</text>
<text x="272.40" y="54.60" font-size="14.3" font-family="Liberation Serif, serif" >1</text>
<rect x="284.2" y="94.20" width="33.4" height="16.7" fill="#FF7F00"/>
<path d="M284.2 102.55H317.8" stroke="#FF1A00" stroke-width="2.5" fill="none"/>
<text x="323.5" y="106.40" font-size="16.4" font-family="Liberation Serif, serif">NNLL</text>
<rect x="284.2" y="116.25" width="33.4" height="16.7" fill="#80AAFF"/>
<path d="M284.2 124.60H317.8" stroke="#0000FF" stroke-width="2.4" fill="none" stroke-dasharray="10 4.7"/>
<text x="323.5" y="128.45" font-size="16.4" font-family="Liberation Serif, serif">NLL</text>
<rect x="284.2" y="138.30" width="33.4" height="16.7" fill="#5CFF5C"/>
<path d="M284.2 146.65H317.8" stroke="#009933" stroke-width="2.6" fill="none" stroke-dasharray="2.8 4.7"/>
<text x="323.5" y="150.50" font-size="16.4" font-family="Liberation Serif, serif">LL</text>
</svg>
</body></html>
